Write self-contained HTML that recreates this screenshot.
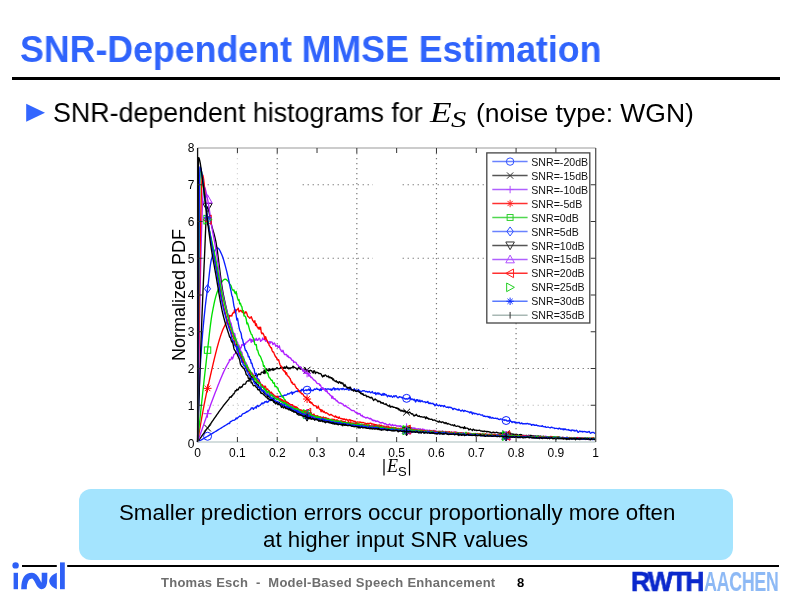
<!DOCTYPE html>
<html><head><meta charset="utf-8">
<style>
html,body{margin:0;padding:0;background:#fff;}
body{width:800px;height:599px;position:relative;overflow:hidden;font-family:"Liberation Sans",sans-serif;}
.abs{position:absolute;white-space:pre;line-height:1;will-change:transform;}
</style></head><body>
<div class="abs" style="left:20px;top:31.8px;font-weight:bold;font-size:36.3px;color:#3064fc;transform-origin:0 0;transform:scaleX(0.984)">SNR-Dependent MMSE Estimation</div>
<div class="abs" style="left:12px;top:76.7px;width:768px;height:2.5px;background:#000"></div>
<svg class="abs" style="left:0;top:0" width="800" height="599" viewBox="0 0 800 599">
<path d="M26.2,103.8 L45,112.8 L26.2,121.8 Z" fill="#3366ff"/>
</svg>
<div class="abs" style="left:53px;top:100px;font-size:27px;color:#000;transform-origin:0 0;transform:scaleX(0.993)">SNR-dependent histograms for</div>
<div class="abs" style="left:429.5px;top:97.5px;font-size:29px;font-style:italic;font-family:'Liberation Serif',serif;color:#000;transform-origin:0 0;transform:scaleX(1.22)">E</div>
<div class="abs" style="left:450.5px;top:108px;font-size:23.5px;font-style:italic;font-family:'Liberation Serif',serif;color:#000;transform-origin:0 0;transform:scaleX(1.3)">S</div>
<div class="abs" style="left:476px;top:100px;font-size:26.5px;color:#000">(noise type: WGN)</div>
<svg class="abs" style="left:0;top:0" width="800" height="599" viewBox="0 0 800 599">
<line x1="237.41" y1="153.0" x2="237.41" y2="437.0" stroke="#d8d8d8" stroke-width="1.2" stroke-dasharray="1.3 3.7"/>
<line x1="277.22" y1="153.0" x2="277.22" y2="437.0" stroke="#777" stroke-width="1.2" stroke-dasharray="1.3 3.7"/>
<line x1="356.84" y1="153.0" x2="356.84" y2="437.0" stroke="#777" stroke-width="1.2" stroke-dasharray="1.3 3.7"/>
<line x1="436.46" y1="153.0" x2="436.46" y2="437.0" stroke="#777" stroke-width="1.2" stroke-dasharray="1.3 3.7"/>
<line x1="516.08" y1="153.0" x2="516.08" y2="437.0" stroke="#777" stroke-width="1.2" stroke-dasharray="1.3 3.7"/>
<line x1="202.60" y1="184.75" x2="278.00" y2="184.75" stroke="#777" stroke-width="1.2" stroke-dasharray="1.3 3.7"/>
<line x1="302.60" y1="184.75" x2="373.00" y2="184.75" stroke="#777" stroke-width="1.2" stroke-dasharray="1.3 3.7"/>
<line x1="402.60" y1="184.75" x2="486.00" y2="184.75" stroke="#777" stroke-width="1.2" stroke-dasharray="1.3 3.7"/>
<line x1="202.60" y1="258.25" x2="278.00" y2="258.25" stroke="#777" stroke-width="1.2" stroke-dasharray="1.3 3.7"/>
<line x1="302.60" y1="258.25" x2="373.00" y2="258.25" stroke="#777" stroke-width="1.2" stroke-dasharray="1.3 3.7"/>
<line x1="402.60" y1="258.25" x2="486.00" y2="258.25" stroke="#777" stroke-width="1.2" stroke-dasharray="1.3 3.7"/>
<line x1="202.60" y1="368.50" x2="385.00" y2="368.50" stroke="#777" stroke-width="1.2" stroke-dasharray="1.3 3.7"/>
<line x1="402.60" y1="368.50" x2="488.00" y2="368.50" stroke="#777" stroke-width="1.2" stroke-dasharray="1.3 3.7"/>
<line x1="507.60" y1="368.50" x2="590.70" y2="368.50" stroke="#777" stroke-width="1.2" stroke-dasharray="1.3 3.7"/>
<line x1="202.60" y1="405.25" x2="364.00" y2="405.25" stroke="#c0c0c0" stroke-width="1.2" stroke-dasharray="1.3 3.7"/>
<line x1="507.60" y1="405.25" x2="590.70" y2="405.25" stroke="#c0c0c0" stroke-width="1.2" stroke-dasharray="1.3 3.7"/>
<path d="M197.60,442.00 197.80,441.89 198.00,441.77 198.20,441.66 198.40,441.55 198.60,441.44 198.79,441.32 198.99,441.21 199.19,441.10 199.57,440.88 199.95,440.67 200.33,440.45 200.70,440.24 201.08,440.02 201.46,439.81 201.84,439.59 202.22,439.37 202.59,439.16 202.97,438.94 203.35,438.72 203.73,438.50 204.10,438.28 204.48,438.06 204.86,437.84 205.24,437.62 205.62,437.40 205.99,437.18 206.37,436.96 206.75,436.74 207.13,436.52 207.51,436.29 207.88,436.07 208.26,435.85 208.64,435.62 209.02,435.40 209.39,435.17 209.77,434.95 210.15,434.72 210.53,434.50 210.91,434.27 211.28,434.04 211.66,433.82 212.04,433.59 212.42,433.36 212.80,433.13 213.17,432.90 213.55,432.67 213.93,432.45 214.31,432.22 214.68,431.99 215.06,431.76 215.44,431.53 215.82,431.30 216.20,431.06 216.57,430.83 216.95,430.60 217.33,430.37 217.71,430.14 218.09,429.91 218.46,429.68 218.84,429.44 219.22,429.21 219.60,428.98 219.97,428.75 220.35,428.51 220.73,428.28 221.11,428.05 221.49,427.81 221.69,427.69 222.41,427.25 223.13,426.80 223.85,426.36 224.57,425.91 225.29,425.46 226.01,425.02 226.73,424.57 227.45,424.13 228.17,423.68 228.89,423.23 229.61,423.56 230.33,421.58 231.05,421.54 231.77,421.08 232.49,420.44 233.22,420.34 233.94,420.34 234.66,419.95 235.38,419.48 236.10,417.97 236.82,418.86 237.54,417.97 238.26,417.37 238.98,416.63 239.70,415.98 240.42,416.43 241.14,416.22 241.86,414.88 242.58,413.80 243.30,413.58 244.03,413.41 244.75,413.24 245.47,412.48 246.19,412.33 246.91,411.34 247.63,411.79 248.35,410.88 249.07,410.61 249.79,409.86 250.51,409.65 251.23,407.97 251.95,408.17 252.67,407.80 253.39,409.41 254.11,408.09 254.83,407.88 255.56,406.86 256.28,408.12 257.00,405.78 257.72,405.48 258.44,406.52 259.16,405.98 259.88,405.54 260.60,404.70 261.32,404.01 262.04,402.84 262.76,403.85 263.48,402.95 264.20,402.99 264.92,401.70 265.64,402.00 266.37,401.30 267.09,402.49 267.81,401.64 268.53,401.72 269.25,399.98 269.97,400.21 270.69,400.52 271.41,400.33 272.13,399.44 272.85,399.91 273.57,399.76 274.29,398.58 275.01,397.02 275.73,398.47 276.45,398.38 277.17,398.50 277.90,398.33 278.62,396.84 279.34,396.36 280.06,396.64 280.78,396.16 281.50,396.04 282.22,395.77 282.94,396.62 283.66,395.66 284.38,395.04 285.10,395.41 285.82,394.98 286.54,394.99 287.26,394.45 287.98,393.44 288.71,394.09 289.43,393.73 290.15,392.89 290.87,392.82 291.59,391.92 292.31,394.34 293.03,392.14 293.75,392.89 294.47,392.29 295.19,391.63 295.91,391.29 296.63,391.16 297.35,391.61 298.07,390.44 298.79,391.61 299.51,391.37 300.24,390.57 300.96,391.38 301.68,389.35 302.40,390.03 303.12,389.10 303.84,390.55 304.56,390.71 305.28,390.24 306.00,389.76 306.72,390.63 307.44,389.89 308.16,390.11 308.88,388.90 309.60,390.46 310.32,389.19 311.05,390.34 311.77,390.52 312.49,390.29 313.21,390.58 313.93,389.58 314.65,388.90 315.37,389.47 316.09,389.10 316.81,388.33 317.53,389.26 318.25,389.27 318.97,389.57 319.69,390.48 320.41,388.75 321.13,390.51 321.85,388.75 322.58,389.19 323.30,388.33 324.02,389.16 324.74,389.67 325.46,388.79 326.18,389.42 326.90,389.11 327.62,388.93 328.34,389.03 329.06,389.04 329.78,389.48 330.50,389.00 331.22,390.38 331.94,388.93 332.66,389.66 333.39,387.98 334.11,387.86 334.83,390.16 335.55,388.64 336.27,388.83 336.99,389.48 337.71,388.34 338.43,389.05 339.15,389.99 339.87,388.90 340.59,388.82 341.31,388.65 342.03,389.64 342.75,388.35 343.47,388.31 344.19,389.72 344.92,389.43 345.64,389.08 346.36,389.51 347.08,387.94 347.80,389.13 348.52,390.09 349.24,390.03 349.96,389.61 350.68,388.04 351.40,389.91 352.12,389.80 352.84,389.63 353.56,390.13 354.28,388.59 355.00,390.68 355.73,389.88 356.45,390.39 357.17,390.15 357.89,391.51 358.61,389.53 359.33,390.96 360.05,390.95 360.77,391.73 361.49,391.68 362.21,390.88 362.93,390.69 363.65,390.96 364.37,390.75 365.09,391.20 365.81,391.79 366.53,391.33 367.26,391.61 367.98,392.21 368.70,391.75 369.42,391.48 370.14,392.32 370.86,392.84 371.58,392.21 372.30,391.52 373.02,393.09 373.74,393.12 374.46,393.27 375.18,392.46 375.90,394.67 376.62,393.28 377.34,392.84 378.07,394.32 378.79,392.88 379.51,393.65 380.23,394.50 380.95,394.11 381.67,395.40 382.39,394.87 383.11,393.37 383.83,395.32 384.55,393.60 385.27,395.01 385.99,394.41 386.71,395.16 387.43,396.80 388.15,395.80 388.87,395.41 389.60,396.42 390.32,396.66 391.04,395.63 391.76,396.42 392.48,397.22 393.20,396.66 393.92,395.75 394.64,396.73 395.36,395.92 396.08,395.64 396.80,396.73 397.52,397.60 398.24,397.82 398.96,397.09 399.68,396.61 400.41,397.13 401.13,397.06 401.85,397.82 402.57,397.45 403.29,398.07 404.01,398.10 404.73,398.84 405.45,399.15 406.17,398.57 406.89,399.10 407.61,399.14 408.33,398.23 409.05,398.86 409.77,397.07 410.49,398.48 411.21,399.61 411.94,398.86 412.66,399.27 413.38,400.07 414.10,399.09 414.82,400.42 415.54,402.01 416.26,399.74 416.98,400.77 417.70,399.61 418.42,401.10 419.14,401.58 419.86,400.04 420.58,401.83 421.30,401.19 422.02,400.58 422.75,401.57 423.47,401.85 424.19,401.90 424.91,401.60 425.63,402.77 426.35,402.07 427.07,402.25 427.79,401.35 428.51,403.13 429.23,403.65 429.95,402.81 430.67,403.66 431.39,403.41 432.11,403.67 432.83,403.21 433.55,404.46 434.28,404.29 435.00,405.92 435.72,405.09 436.44,403.81 437.16,405.28 437.88,405.46 438.60,405.92 439.32,405.03 440.04,405.42 440.76,406.38 441.48,405.47 442.20,405.87 442.92,405.75 443.64,406.72 444.36,405.51 445.09,406.45 445.81,406.92 446.53,407.31 447.25,407.33 447.97,406.86 448.69,407.68 449.41,407.08 450.13,407.53 450.85,407.27 451.57,407.74 452.29,408.41 453.01,409.61 453.73,408.54 454.45,408.44 455.17,408.96 455.89,408.91 456.62,409.66 457.34,409.78 458.06,410.26 458.78,409.16 459.50,409.99 460.22,410.52 460.94,411.15 461.66,410.67 462.38,409.97 463.10,410.68 463.82,411.49 464.54,410.50 465.26,410.67 465.98,411.08 466.70,411.35 467.43,411.33 468.15,411.82 468.87,411.87 469.59,412.86 470.31,411.82 471.03,412.66 471.75,411.88 472.47,414.18 473.19,412.91 473.91,412.93 474.63,413.78 475.35,413.53 476.07,413.54 476.79,413.79 477.51,414.53 478.23,414.49 478.96,414.06 479.68,414.10 480.40,414.87 481.12,415.04 481.84,415.15 482.56,414.89 483.28,416.11 484.00,416.42 484.72,415.85 485.44,416.63 486.16,416.54 486.88,416.37 487.60,416.33 488.32,417.27 489.04,416.50 489.77,417.94 490.49,416.96 491.21,418.16 491.93,418.18 492.65,417.40 493.37,418.07 494.09,418.42 494.81,418.41 495.53,418.12 496.25,418.53 496.97,418.67 497.69,418.31 498.41,419.31 499.13,419.34 499.85,419.51 500.57,418.86 501.30,419.09 502.02,419.10 502.74,419.87 503.46,420.06 504.18,419.73 504.90,420.45 505.62,420.02 506.34,420.20 507.06,421.00 507.78,420.85 508.50,420.99 509.22,420.27 509.94,420.01 510.66,421.38 511.38,421.45 512.11,422.63 512.83,421.62 513.55,421.85 514.27,422.46 514.99,421.74 515.71,422.93 516.43,422.44 517.15,422.41 517.87,423.15 518.59,422.33 519.31,422.36 520.03,423.58 520.75,423.71 521.47,422.93 522.19,423.33 522.91,423.97 523.64,423.68 524.36,423.72 525.08,423.85 525.80,423.54 526.52,423.85 527.24,423.36 527.96,423.65 528.68,424.07 529.40,424.01 530.12,424.02 530.84,424.40 531.56,425.34 532.28,424.55 533.00,425.00 533.72,424.45 534.45,425.21 535.17,425.14 535.89,425.33 536.61,424.86 537.33,425.61 538.05,425.91 538.77,425.77 539.49,426.19 540.21,426.04 540.93,426.22 541.65,426.21 542.37,425.62 543.09,426.70 543.81,426.61 544.53,426.82 545.25,426.55 545.98,427.43 546.70,427.32 547.42,427.15 548.14,427.01 548.86,427.36 549.58,427.64 550.30,427.89 551.02,427.43 551.74,427.14 552.46,427.70 553.18,427.85 553.90,427.85 554.62,428.50 555.34,428.35 556.06,428.42 556.79,428.29 557.51,428.52 558.23,429.09 558.95,428.25 559.67,428.12 560.39,428.99 561.11,428.82 561.83,428.97 562.55,428.86 563.27,429.85 563.99,428.71 564.71,429.63 565.43,429.04 566.15,429.60 566.87,429.87 567.59,429.86 568.32,429.55 569.04,430.33 569.76,430.22 570.48,430.35 571.20,430.92 571.92,429.84 572.64,430.21 573.36,430.53 574.08,430.16 574.80,431.06 575.52,430.81 576.24,430.20 576.96,430.57 577.68,431.88 578.40,432.39 579.13,431.59 579.85,430.88 580.57,431.55 581.29,431.53 582.01,431.30 582.73,431.95 583.45,431.61 584.17,431.48 584.89,431.68 585.61,431.78 586.33,432.24 587.05,431.90 587.77,432.33 588.49,431.76 589.21,431.37 589.93,432.68 590.66,433.28 591.38,432.71 592.10,432.49 592.82,432.32 593.54,432.38 594.26,433.14 594.98,433.21 595.70,432.53" fill="none" stroke="#0a1eff" stroke-width="1.35" stroke-linejoin="round"/>
<circle cx="207.55" cy="436.27" r="4" fill="none" stroke="#0a1eff" stroke-width="1"/>
<circle cx="307.08" cy="390.18" r="4" fill="none" stroke="#0a1eff" stroke-width="1"/>
<circle cx="406.60" cy="398.34" r="4" fill="none" stroke="#0a1eff" stroke-width="1"/>
<circle cx="506.13" cy="420.50" r="4" fill="none" stroke="#0a1eff" stroke-width="1"/>
<path d="M197.60,442.00 197.80,441.72 198.00,441.43 198.20,441.15 198.40,440.87 198.60,440.59 198.79,440.30 198.99,440.02 199.19,439.74 199.57,439.20 199.95,438.67 200.33,438.13 200.70,437.60 201.08,437.07 201.46,436.53 201.84,436.00 202.22,435.47 202.59,434.94 202.97,434.41 203.35,433.88 203.73,433.35 204.10,432.82 204.48,432.29 204.86,431.76 205.24,431.24 205.62,430.71 205.99,430.19 206.37,429.66 206.75,429.14 207.13,428.62 207.51,428.10 207.88,427.58 208.26,427.06 208.64,426.53 209.02,426.00 209.39,425.47 209.77,424.94 210.15,424.40 210.53,423.87 210.91,423.33 211.28,422.79 211.66,422.25 212.04,421.71 212.42,421.17 212.80,420.62 213.17,420.08 213.55,419.54 213.93,418.99 214.31,418.45 214.68,417.91 215.06,417.36 215.44,416.82 215.82,416.28 216.20,415.74 216.57,415.20 216.95,414.66 217.33,414.12 217.71,413.58 218.09,413.04 218.46,412.51 218.84,411.98 219.22,411.45 219.60,410.92 219.97,410.40 220.35,409.87 220.73,409.35 221.11,408.84 221.49,408.32 221.69,408.05 222.41,407.09 223.13,406.13 223.85,405.19 224.57,404.27 225.29,403.36 226.01,402.47 226.73,401.60 227.45,400.74 228.17,399.91 228.89,399.10 229.61,397.28 230.33,396.93 231.05,397.36 231.77,395.72 232.49,395.83 233.22,394.00 233.94,393.89 234.66,392.50 235.38,390.58 236.10,391.00 236.82,389.29 237.54,390.10 238.26,389.76 238.98,387.88 239.70,386.91 240.42,387.89 241.14,386.76 241.86,387.23 242.58,385.67 243.30,384.22 244.03,384.33 244.75,384.08 245.47,384.12 246.19,382.17 246.91,381.26 247.63,380.84 248.35,380.55 249.07,381.21 249.79,378.29 250.51,379.21 251.23,378.78 251.95,377.59 252.67,379.46 253.39,377.30 254.11,376.92 254.83,376.08 255.56,374.86 256.28,375.17 257.00,376.67 257.72,375.03 258.44,374.17 259.16,373.83 259.88,374.64 260.60,374.59 261.32,372.35 262.04,372.16 262.76,372.12 263.48,373.25 264.20,369.93 264.92,373.65 265.64,371.18 266.37,368.80 267.09,370.50 267.81,369.94 268.53,370.97 269.25,368.58 269.97,370.75 270.69,369.26 271.41,369.24 272.13,370.15 272.85,368.33 273.57,370.23 274.29,369.47 275.01,368.78 275.73,369.00 276.45,368.12 277.17,367.61 277.90,368.58 278.62,368.70 279.34,368.59 280.06,368.36 280.78,367.24 281.50,368.07 282.22,367.44 282.94,367.82 283.66,368.42 284.38,366.85 285.10,368.49 285.82,367.51 286.54,366.16 287.26,368.42 287.98,367.48 288.71,368.82 289.43,367.85 290.15,368.73 290.87,367.73 291.59,367.92 292.31,367.37 293.03,366.14 293.75,367.37 294.47,367.12 295.19,367.85 295.91,368.13 296.63,368.76 297.35,369.74 298.07,368.22 298.79,366.98 299.51,368.15 300.24,369.19 300.96,367.42 301.68,369.40 302.40,369.72 303.12,370.40 303.84,370.33 304.56,369.86 305.28,368.05 306.00,370.12 306.72,370.99 307.44,370.77 308.16,370.59 308.88,372.04 309.60,370.61 310.32,370.28 311.05,370.78 311.77,370.72 312.49,372.53 313.21,373.06 313.93,370.69 314.65,371.05 315.37,373.50 316.09,372.22 316.81,372.58 317.53,372.36 318.25,372.86 318.97,373.68 319.69,373.32 320.41,373.59 321.13,374.00 321.85,375.76 322.58,376.95 323.30,375.37 324.02,376.33 324.74,375.05 325.46,374.97 326.18,375.66 326.90,376.50 327.62,376.48 328.34,375.94 329.06,377.85 329.78,376.88 330.50,377.44 331.22,378.19 331.94,377.63 332.66,379.76 333.39,378.84 334.11,380.72 334.83,380.99 335.55,381.61 336.27,380.83 336.99,382.30 337.71,381.92 338.43,383.21 339.15,381.89 339.87,381.67 340.59,383.26 341.31,382.54 342.03,383.72 342.75,382.86 343.47,384.78 344.19,386.38 344.92,384.45 345.64,386.01 346.36,387.03 347.08,387.10 347.80,388.17 348.52,387.44 349.24,388.45 349.96,386.94 350.68,387.89 351.40,389.91 352.12,390.14 352.84,389.81 353.56,391.11 354.28,390.16 355.00,390.46 355.73,391.31 356.45,391.48 357.17,391.09 357.89,390.78 358.61,391.07 359.33,392.42 360.05,392.19 360.77,393.62 361.49,393.17 362.21,394.44 362.93,393.63 363.65,395.29 364.37,395.44 365.09,395.13 365.81,395.09 366.53,396.74 367.26,396.48 367.98,396.36 368.70,396.63 369.42,397.66 370.14,397.38 370.86,397.95 371.58,397.20 372.30,398.07 373.02,399.60 373.74,400.48 374.46,399.34 375.18,398.98 375.90,399.94 376.62,399.82 377.34,400.99 378.07,401.85 378.79,400.86 379.51,401.58 380.23,401.53 380.95,403.11 381.67,402.46 382.39,403.26 383.11,402.70 383.83,403.84 384.55,404.16 385.27,404.45 385.99,403.65 386.71,404.68 387.43,405.44 388.15,405.89 388.87,406.19 389.60,405.02 390.32,407.21 391.04,406.94 391.76,406.36 392.48,406.34 393.20,407.38 393.92,407.13 394.64,407.42 395.36,407.57 396.08,408.38 396.80,407.75 397.52,408.82 398.24,408.35 398.96,410.08 399.68,409.21 400.41,410.68 401.13,411.07 401.85,410.23 402.57,411.21 403.29,410.76 404.01,411.83 404.73,410.64 405.45,411.74 406.17,412.59 406.89,412.12 407.61,411.99 408.33,413.09 409.05,412.65 409.77,412.08 410.49,412.93 411.21,413.62 411.94,414.13 412.66,413.77 413.38,415.07 414.10,416.08 414.82,415.08 415.54,415.51 416.26,414.29 416.98,415.33 417.70,416.11 418.42,416.42 419.14,415.80 419.86,416.68 420.58,416.76 421.30,416.73 422.02,416.85 422.75,417.06 423.47,417.26 424.19,416.88 424.91,416.90 425.63,418.73 426.35,416.89 427.07,418.27 427.79,417.94 428.51,419.09 429.23,418.78 429.95,419.04 430.67,419.28 431.39,419.13 432.11,419.43 432.83,420.40 433.55,420.17 434.28,419.97 435.00,420.18 435.72,420.85 436.44,421.01 437.16,421.14 437.88,421.77 438.60,422.04 439.32,420.92 440.04,422.01 440.76,421.97 441.48,422.55 442.20,421.81 442.92,421.80 443.64,422.88 444.36,422.74 445.09,423.49 445.81,422.57 446.53,423.13 447.25,424.10 447.97,423.37 448.69,423.95 449.41,424.11 450.13,424.32 450.85,424.95 451.57,425.08 452.29,424.77 453.01,425.24 453.73,425.81 454.45,424.72 455.17,425.85 455.89,426.18 456.62,426.41 457.34,426.01 458.06,426.06 458.78,426.54 459.50,426.45 460.22,427.60 460.94,427.31 461.66,427.51 462.38,427.48 463.10,427.44 463.82,428.63 464.54,426.69 465.26,428.47 465.98,428.13 466.70,428.09 467.43,428.23 468.15,428.62 468.87,430.02 469.59,429.43 470.31,428.83 471.03,429.63 471.75,429.82 472.47,430.45 473.19,429.17 473.91,429.58 474.63,430.24 475.35,430.06 476.07,430.16 476.79,430.67 477.51,430.45 478.23,430.36 478.96,430.35 479.68,430.18 480.40,430.77 481.12,431.06 481.84,430.83 482.56,431.32 483.28,431.66 484.00,430.85 484.72,431.52 485.44,431.43 486.16,431.32 486.88,432.08 487.60,431.51 488.32,431.67 489.04,431.97 489.77,431.87 490.49,432.39 491.21,433.02 491.93,432.38 492.65,432.70 493.37,432.12 494.09,432.43 494.81,432.80 495.53,432.67 496.25,432.27 496.97,432.43 497.69,432.79 498.41,432.84 499.13,433.18 499.85,433.20 500.57,433.01 501.30,433.34 502.02,433.26 502.74,433.84 503.46,434.11 504.18,434.19 504.90,433.80 505.62,433.24 506.34,433.36 507.06,434.21 507.78,434.47 508.50,433.70 509.22,433.88 509.94,434.60 510.66,433.80 511.38,434.18 512.11,433.84 512.83,434.25 513.55,434.12 514.27,434.38 514.99,434.90 515.71,434.70 516.43,434.92 517.15,434.45 517.87,435.16 518.59,435.40 519.31,434.69 520.03,434.58 520.75,434.54 521.47,434.72 522.19,435.69 522.91,435.46 523.64,435.47 524.36,435.34 525.08,436.14 525.80,435.45 526.52,435.40 527.24,435.88 527.96,435.57 528.68,435.25 529.40,435.70 530.12,435.41 530.84,435.47 531.56,435.73 532.28,435.79 533.00,436.10 533.72,435.60 534.45,436.23 535.17,436.36 535.89,435.93 536.61,436.47 537.33,436.12 538.05,435.95 538.77,436.33 539.49,436.37 540.21,436.14 540.93,436.24 541.65,437.06 542.37,437.02 543.09,436.17 543.81,436.53 544.53,437.41 545.25,437.20 545.98,436.78 546.70,437.16 547.42,436.71 548.14,436.88 548.86,436.78 549.58,437.37 550.30,436.81 551.02,436.40 551.74,437.35 552.46,436.69 553.18,436.83 553.90,436.98 554.62,437.25 555.34,437.65 556.06,437.59 556.79,437.08 557.51,437.05 558.23,437.00 558.95,437.12 559.67,437.18 560.39,437.65 561.11,437.94 561.83,437.51 562.55,437.44 563.27,437.61 563.99,438.17 564.71,437.88 565.43,438.22 566.15,437.72 566.87,438.14 567.59,437.89 568.32,437.76 569.04,437.85 569.76,437.48 570.48,438.31 571.20,438.70 571.92,437.71 572.64,437.59 573.36,437.60 574.08,438.01 574.80,437.95 575.52,438.11 576.24,438.60 576.96,438.39 577.68,438.07 578.40,438.45 579.13,437.67 579.85,438.81 580.57,438.48 581.29,438.00 582.01,438.58 582.73,438.77 583.45,438.87 584.17,438.69 584.89,437.99 585.61,438.37 586.33,438.35 587.05,438.71 587.77,438.29 588.49,438.55 589.21,438.90 589.93,438.77 590.66,438.57 591.38,438.28 592.10,438.69 592.82,438.53 593.54,438.06 594.26,438.98 594.98,439.14 595.70,438.44" fill="none" stroke="#000000" stroke-width="1.35" stroke-linejoin="round"/>
<path d="M204.15,424.64L210.95,431.44M204.15,431.44L210.95,424.64" stroke="#000000" stroke-width="1" fill="none"/>
<path d="M303.68,366.77L310.48,373.57M303.68,373.57L310.48,366.77" stroke="#000000" stroke-width="1" fill="none"/>
<path d="M403.20,408.74L410.00,415.54M403.20,415.54L410.00,408.74" stroke="#000000" stroke-width="1" fill="none"/>
<path d="M502.73,430.37L509.53,437.17M502.73,437.17L509.53,430.37" stroke="#000000" stroke-width="1" fill="none"/>
<path d="M197.60,442.00 197.80,441.43 198.00,440.86 198.20,440.30 198.40,439.73 198.60,439.16 198.79,438.59 198.99,438.03 199.19,437.46 199.57,436.38 199.95,435.31 200.33,434.23 200.70,433.16 201.08,432.08 201.46,431.01 201.84,429.93 202.22,428.86 202.59,427.78 202.97,426.71 203.35,425.63 203.73,424.56 204.10,423.49 204.48,422.41 204.86,421.34 205.24,420.27 205.62,419.20 205.99,418.12 206.37,417.05 206.75,415.98 207.13,414.91 207.51,413.84 207.88,412.76 208.26,411.67 208.64,410.57 209.02,409.47 209.39,408.37 209.77,407.27 210.15,406.17 210.53,405.09 210.91,404.02 211.28,402.96 211.66,401.92 212.04,400.91 212.42,399.92 212.80,398.95 213.17,397.98 213.55,397.01 213.93,396.03 214.31,395.05 214.68,394.07 215.06,393.09 215.44,392.11 215.82,391.13 216.20,390.15 216.57,389.17 216.95,388.20 217.33,387.23 217.71,386.26 218.09,385.30 218.46,384.34 218.84,383.38 219.22,382.44 219.60,381.49 219.97,380.56 220.35,379.63 220.73,378.71 221.11,377.81 221.49,376.91 221.69,376.43 222.41,374.76 223.13,373.12 223.85,371.53 224.57,369.99 225.29,368.51 226.01,367.08 226.73,365.72 227.45,364.42 228.17,363.19 228.89,362.04 229.61,359.40 230.33,360.00 231.05,359.08 231.77,357.06 232.49,358.94 233.22,356.98 233.94,354.53 234.66,354.19 235.38,353.31 236.10,352.01 236.82,352.16 237.54,350.87 238.26,351.28 238.98,351.02 239.70,346.98 240.42,348.53 241.14,347.58 241.86,344.66 242.58,344.35 243.30,345.42 244.03,344.84 244.75,343.80 245.47,344.23 246.19,342.12 246.91,342.12 247.63,341.74 248.35,340.71 249.07,340.44 249.79,338.94 250.51,339.07 251.23,342.42 251.95,339.33 252.67,341.37 253.39,341.53 254.11,339.00 254.83,340.43 255.56,339.89 256.28,338.28 257.00,340.17 257.72,340.43 258.44,339.09 259.16,338.15 259.88,339.00 260.60,341.42 261.32,340.54 262.04,340.13 262.76,337.98 263.48,339.31 264.20,339.54 264.92,339.36 265.64,341.24 266.37,340.60 267.09,340.82 267.81,342.67 268.53,341.86 269.25,341.47 269.97,343.51 270.69,341.72 271.41,342.08 272.13,342.14 272.85,344.48 273.57,343.95 274.29,342.96 275.01,344.16 275.73,346.36 276.45,345.82 277.17,345.13 277.90,347.30 278.62,347.43 279.34,345.77 280.06,349.13 280.78,349.85 281.50,351.44 282.22,351.75 282.94,350.25 283.66,352.58 284.38,354.31 285.10,354.73 285.82,354.47 286.54,354.39 287.26,356.54 287.98,355.77 288.71,357.58 289.43,357.39 290.15,357.84 290.87,358.37 291.59,359.97 292.31,360.34 293.03,360.32 293.75,362.63 294.47,361.89 295.19,362.20 295.91,362.35 296.63,363.98 297.35,364.76 298.07,365.10 298.79,366.53 299.51,366.70 300.24,366.79 300.96,367.56 301.68,369.37 302.40,369.38 303.12,371.59 303.84,369.70 304.56,371.50 305.28,371.48 306.00,373.27 306.72,373.05 307.44,373.25 308.16,373.45 308.88,376.05 309.60,374.88 310.32,376.38 311.05,377.55 311.77,377.21 312.49,378.52 313.21,379.21 313.93,380.22 314.65,380.18 315.37,381.03 316.09,381.89 316.81,383.19 317.53,383.55 318.25,383.56 318.97,383.60 319.69,385.29 320.41,384.92 321.13,386.68 321.85,388.17 322.58,387.61 323.30,389.45 324.02,389.16 324.74,389.37 325.46,391.03 326.18,391.55 326.90,390.45 327.62,392.65 328.34,393.29 329.06,393.59 329.78,394.83 330.50,395.45 331.22,395.76 331.94,398.20 332.66,396.31 333.39,398.51 334.11,399.09 334.83,398.63 335.55,399.51 336.27,400.86 336.99,400.47 337.71,401.82 338.43,402.05 339.15,403.02 339.87,403.09 340.59,402.82 341.31,403.46 342.03,403.82 342.75,403.93 343.47,404.97 344.19,405.79 344.92,406.02 345.64,405.36 346.36,406.74 347.08,407.03 347.80,407.70 348.52,407.95 349.24,408.28 349.96,408.96 350.68,409.46 351.40,410.23 352.12,410.68 352.84,410.41 353.56,410.63 354.28,410.94 355.00,411.81 355.73,412.67 356.45,412.29 357.17,412.68 357.89,414.17 358.61,413.34 359.33,413.82 360.05,413.63 360.77,415.42 361.49,415.85 362.21,415.15 362.93,416.79 363.65,416.59 364.37,417.10 365.09,417.38 365.81,418.13 366.53,417.63 367.26,417.34 367.98,417.90 368.70,418.20 369.42,418.87 370.14,418.29 370.86,419.01 371.58,419.03 372.30,420.52 373.02,419.88 373.74,420.83 374.46,420.38 375.18,420.69 375.90,421.54 376.62,421.18 377.34,420.96 378.07,421.48 378.79,421.66 379.51,422.53 380.23,422.66 380.95,423.06 381.67,422.70 382.39,422.43 383.11,422.96 383.83,423.34 384.55,424.02 385.27,423.51 385.99,423.98 386.71,424.87 387.43,424.96 388.15,424.51 388.87,424.91 389.60,423.96 390.32,424.80 391.04,425.40 391.76,425.30 392.48,424.54 393.20,425.75 393.92,425.14 394.64,425.41 395.36,425.09 396.08,425.60 396.80,426.11 397.52,425.83 398.24,426.13 398.96,425.85 399.68,426.39 400.41,425.65 401.13,426.61 401.85,426.49 402.57,427.05 403.29,426.83 404.01,426.97 404.73,427.01 405.45,426.82 406.17,427.51 406.89,427.74 407.61,427.05 408.33,427.72 409.05,427.99 409.77,427.35 410.49,427.61 411.21,429.10 411.94,428.29 412.66,427.93 413.38,428.02 414.10,428.67 414.82,427.94 415.54,428.99 416.26,428.87 416.98,428.84 417.70,428.99 418.42,428.78 419.14,428.80 419.86,429.32 420.58,428.86 421.30,429.78 422.02,429.69 422.75,429.04 423.47,429.77 424.19,429.49 424.91,430.17 425.63,430.20 426.35,430.23 427.07,430.22 427.79,430.50 428.51,430.46 429.23,430.29 429.95,430.18 430.67,430.68 431.39,430.56 432.11,430.54 432.83,431.37 433.55,431.64 434.28,430.50 435.00,430.69 435.72,431.24 436.44,431.20 437.16,431.75 437.88,431.98 438.60,431.40 439.32,432.14 440.04,431.30 440.76,431.96 441.48,431.66 442.20,431.10 442.92,431.17 443.64,432.03 444.36,431.59 445.09,432.42 445.81,432.31 446.53,432.01 447.25,431.68 447.97,432.46 448.69,432.10 449.41,432.31 450.13,432.86 450.85,432.49 451.57,431.94 452.29,432.57 453.01,432.40 453.73,432.33 454.45,432.95 455.17,432.27 455.89,432.22 456.62,432.23 457.34,432.38 458.06,433.08 458.78,433.17 459.50,433.28 460.22,433.37 460.94,433.38 461.66,432.77 462.38,432.64 463.10,433.45 463.82,432.97 464.54,433.77 465.26,433.47 465.98,433.75 466.70,434.02 467.43,433.46 468.15,433.49 468.87,433.71 469.59,433.79 470.31,434.00 471.03,433.74 471.75,433.95 472.47,433.69 473.19,434.25 473.91,433.77 474.63,433.71 475.35,433.49 476.07,433.60 476.79,433.95 477.51,434.30 478.23,434.75 478.96,434.14 479.68,433.67 480.40,433.62 481.12,435.15 481.84,434.56 482.56,434.45 483.28,434.74 484.00,434.34 484.72,434.43 485.44,434.66 486.16,434.53 486.88,435.12 487.60,434.94 488.32,434.95 489.04,434.35 489.77,435.28 490.49,434.81 491.21,434.50 491.93,434.83 492.65,434.56 493.37,435.11 494.09,434.77 494.81,434.64 495.53,434.21 496.25,434.77 496.97,434.56 497.69,435.09 498.41,435.10 499.13,434.62 499.85,435.00 500.57,434.74 501.30,435.02 502.02,434.56 502.74,434.51 503.46,435.66 504.18,434.76 504.90,435.29 505.62,435.30 506.34,435.54 507.06,435.29 507.78,435.95 508.50,435.85 509.22,435.90 509.94,435.57 510.66,435.38 511.38,435.48 512.11,435.64 512.83,436.00 513.55,436.43 514.27,435.72 514.99,435.84 515.71,435.80 516.43,435.47 517.15,436.05 517.87,436.09 518.59,436.84 519.31,435.89 520.03,436.13 520.75,436.40 521.47,436.05 522.19,436.56 522.91,436.42 523.64,435.60 524.36,436.04 525.08,436.02 525.80,436.11 526.52,436.17 527.24,436.35 527.96,435.68 528.68,436.51 529.40,436.26 530.12,436.61 530.84,436.69 531.56,437.42 532.28,437.28 533.00,436.14 533.72,436.18 534.45,436.86 535.17,436.75 535.89,436.57 536.61,437.13 537.33,436.23 538.05,437.20 538.77,437.12 539.49,437.84 540.21,436.43 540.93,436.95 541.65,436.45 542.37,437.35 543.09,436.93 543.81,437.05 544.53,437.03 545.25,436.43 545.98,436.40 546.70,436.72 547.42,437.33 548.14,436.93 548.86,436.80 549.58,437.09 550.30,437.11 551.02,437.17 551.74,437.65 552.46,437.29 553.18,436.87 553.90,437.75 554.62,437.42 555.34,437.20 556.06,437.95 556.79,437.57 557.51,438.10 558.23,437.77 558.95,438.05 559.67,437.91 560.39,437.80 561.11,437.75 561.83,437.75 562.55,438.50 563.27,437.21 563.99,437.85 564.71,438.14 565.43,438.01 566.15,437.72 566.87,438.17 567.59,438.00 568.32,438.04 569.04,437.74 569.76,438.18 570.48,437.81 571.20,437.86 571.92,438.05 572.64,437.62 573.36,438.04 574.08,438.45 574.80,437.99 575.52,438.07 576.24,438.14 576.96,438.07 577.68,437.41 578.40,438.11 579.13,438.06 579.85,438.31 580.57,437.82 581.29,438.29 582.01,438.55 582.73,438.70 583.45,438.16 584.17,438.11 584.89,438.88 585.61,438.62 586.33,438.20 587.05,438.09 587.77,438.87 588.49,438.59 589.21,438.21 589.93,438.67 590.66,438.66 591.38,438.71 592.10,438.97 592.82,438.55 593.54,438.49 594.26,439.05 594.98,438.59 595.70,438.28" fill="none" stroke="#b020ff" stroke-width="1.35" stroke-linejoin="round"/>
<path d="M203.55,413.70L211.55,413.70M207.55,409.70L207.55,417.70" stroke="#b020ff" stroke-width="1" fill="none"/>
<path d="M303.08,373.29L311.08,373.29M307.08,369.29L307.08,377.29" stroke="#b020ff" stroke-width="1" fill="none"/>
<path d="M402.60,427.36L410.60,427.36M406.60,423.36L406.60,431.36" stroke="#b020ff" stroke-width="1" fill="none"/>
<path d="M502.13,435.50L510.13,435.50M506.13,431.50L506.13,439.50" stroke="#b020ff" stroke-width="1" fill="none"/>
<path d="M197.60,442.00 197.80,440.80 198.00,439.60 198.20,438.41 198.40,437.22 198.60,436.03 198.79,434.84 198.99,433.66 199.19,432.48 199.57,430.25 199.95,428.04 200.33,425.85 200.70,423.67 201.08,421.50 201.46,419.36 201.84,417.24 202.22,415.14 202.59,413.06 202.97,411.00 203.35,408.97 203.73,406.96 204.10,404.98 204.48,403.03 204.86,401.11 205.24,399.22 205.62,397.36 205.99,395.53 206.37,393.73 206.75,391.97 207.13,390.24 207.51,388.55 207.88,386.89 208.26,385.21 208.64,383.54 209.02,381.87 209.39,380.19 209.77,378.52 210.15,376.85 210.53,375.18 210.91,373.51 211.28,371.85 211.66,370.20 212.04,368.56 212.42,366.92 212.80,365.30 213.17,363.68 213.55,362.08 213.93,360.49 214.31,358.92 214.68,357.36 215.06,355.82 215.44,354.29 215.82,352.79 216.20,351.30 216.57,349.84 216.95,348.40 217.33,346.99 217.71,345.59 218.09,344.23 218.46,342.89 218.84,341.58 219.22,340.30 219.60,339.05 219.97,337.83 220.35,336.65 220.73,335.49 221.11,334.38 221.49,333.30 221.69,332.74 222.41,330.82 223.13,329.05 223.85,327.43 224.57,325.98 225.29,324.68 226.01,323.42 226.73,322.16 227.45,320.91 228.17,319.69 228.89,318.50 229.61,315.48 230.33,316.05 231.05,315.38 231.77,315.96 232.49,313.76 233.22,312.77 233.94,312.73 234.66,309.22 235.38,312.98 236.10,310.57 236.82,309.70 237.54,309.58 238.26,308.13 238.98,311.86 239.70,311.27 240.42,310.50 241.14,310.74 241.86,311.69 242.58,312.51 243.30,310.78 244.03,313.73 244.75,313.66 245.47,311.81 246.19,312.00 246.91,313.57 247.63,316.18 248.35,316.74 249.07,317.37 249.79,318.22 250.51,317.95 251.23,316.61 251.95,318.55 252.67,320.46 253.39,321.30 254.11,322.63 254.83,320.73 255.56,325.47 256.28,323.75 257.00,326.77 257.72,327.36 258.44,328.91 259.16,327.10 259.88,329.41 260.60,327.18 261.32,332.72 262.04,333.87 262.76,332.99 263.48,334.13 264.20,336.25 264.92,339.41 265.64,336.72 266.37,338.97 267.09,340.45 267.81,342.85 268.53,342.84 269.25,345.47 269.97,346.18 270.69,347.78 271.41,347.63 272.13,350.77 272.85,351.99 273.57,351.85 274.29,354.06 275.01,355.60 275.73,357.08 276.45,357.16 277.17,359.91 277.90,360.02 278.62,359.74 279.34,362.45 280.06,364.70 280.78,366.23 281.50,366.16 282.22,368.53 282.94,369.97 283.66,370.35 284.38,371.74 285.10,371.14 285.82,374.20 286.54,372.71 287.26,375.71 287.98,376.02 288.71,376.58 289.43,377.94 290.15,378.52 290.87,380.84 291.59,382.80 292.31,382.13 293.03,384.22 293.75,384.31 294.47,384.09 295.19,385.87 295.91,387.08 296.63,388.37 297.35,388.66 298.07,389.45 298.79,391.32 299.51,390.85 300.24,392.65 300.96,392.58 301.68,393.85 302.40,393.67 303.12,394.54 303.84,395.87 304.56,396.69 305.28,397.05 306.00,397.15 306.72,398.04 307.44,399.29 308.16,399.85 308.88,399.72 309.60,402.37 310.32,401.66 311.05,403.18 311.77,402.43 312.49,404.16 313.21,404.53 313.93,405.70 314.65,405.63 315.37,405.74 316.09,405.80 316.81,408.02 317.53,408.08 318.25,406.14 318.97,408.31 319.69,409.32 320.41,409.49 321.13,411.69 321.85,409.77 322.58,410.97 323.30,412.22 324.02,411.19 324.74,412.52 325.46,413.09 326.18,412.62 326.90,413.02 327.62,413.81 328.34,413.93 329.06,414.91 329.78,415.27 330.50,414.37 331.22,414.45 331.94,415.19 332.66,415.50 333.39,416.16 334.11,416.29 334.83,416.94 335.55,415.85 336.27,417.24 336.99,416.99 337.71,417.42 338.43,418.32 339.15,416.90 339.87,418.23 340.59,418.61 341.31,418.37 342.03,419.05 342.75,418.78 343.47,419.44 344.19,418.88 344.92,419.30 345.64,420.14 346.36,419.17 347.08,419.73 347.80,420.50 348.52,419.97 349.24,420.09 349.96,419.58 350.68,421.00 351.40,420.35 352.12,420.93 352.84,420.75 353.56,421.29 354.28,421.34 355.00,421.22 355.73,422.13 356.45,422.68 357.17,421.85 357.89,422.18 358.61,422.06 359.33,421.94 360.05,422.45 360.77,421.94 361.49,422.62 362.21,422.67 362.93,422.47 363.65,422.70 364.37,423.12 365.09,423.14 365.81,423.65 366.53,423.70 367.26,423.50 367.98,423.30 368.70,423.97 369.42,423.53 370.14,423.16 370.86,423.18 371.58,424.23 372.30,423.89 373.02,424.20 373.74,424.24 374.46,424.34 375.18,424.59 375.90,424.58 376.62,424.97 377.34,425.28 378.07,425.18 378.79,425.20 379.51,425.01 380.23,425.49 380.95,425.46 381.67,425.29 382.39,426.41 383.11,426.24 383.83,426.03 384.55,426.36 385.27,426.92 385.99,426.20 386.71,426.76 387.43,427.26 388.15,426.18 388.87,427.61 389.60,427.20 390.32,427.58 391.04,427.38 391.76,427.30 392.48,427.98 393.20,427.80 393.92,427.92 394.64,428.38 395.36,427.60 396.08,428.11 396.80,428.40 397.52,428.65 398.24,428.61 398.96,428.52 399.68,428.85 400.41,428.26 401.13,429.87 401.85,429.79 402.57,429.12 403.29,429.84 404.01,429.21 404.73,429.52 405.45,429.11 406.17,429.25 406.89,428.96 407.61,429.19 408.33,429.13 409.05,429.48 409.77,429.33 410.49,429.62 411.21,430.12 411.94,430.44 412.66,430.48 413.38,429.89 414.10,431.06 414.82,430.13 415.54,430.55 416.26,430.03 416.98,430.30 417.70,430.72 418.42,430.48 419.14,431.43 419.86,430.50 420.58,430.48 421.30,431.42 422.02,430.44 422.75,430.87 423.47,430.81 424.19,431.47 424.91,430.75 425.63,430.81 426.35,431.08 427.07,431.50 427.79,430.89 428.51,430.75 429.23,431.12 429.95,430.94 430.67,431.59 431.39,431.36 432.11,431.32 432.83,431.45 433.55,430.49 434.28,431.44 435.00,431.86 435.72,431.38 436.44,432.14 437.16,431.64 437.88,431.53 438.60,432.05 439.32,432.03 440.04,432.30 440.76,431.95 441.48,432.29 442.20,431.43 442.92,431.88 443.64,432.25 444.36,432.74 445.09,431.49 445.81,431.81 446.53,432.16 447.25,432.30 447.97,432.36 448.69,432.64 449.41,431.81 450.13,432.47 450.85,433.12 451.57,432.88 452.29,433.63 453.01,432.48 453.73,432.48 454.45,432.16 455.17,432.08 455.89,433.18 456.62,432.77 457.34,432.62 458.06,432.73 458.78,433.25 459.50,432.82 460.22,432.97 460.94,432.70 461.66,433.25 462.38,433.37 463.10,433.51 463.82,433.51 464.54,433.69 465.26,433.58 465.98,433.31 466.70,433.37 467.43,433.10 468.15,433.23 468.87,433.44 469.59,434.12 470.31,433.54 471.03,433.37 471.75,434.30 472.47,434.27 473.19,434.25 473.91,434.32 474.63,434.09 475.35,434.37 476.07,433.93 476.79,434.54 477.51,434.20 478.23,434.37 478.96,434.58 479.68,433.90 480.40,434.30 481.12,434.15 481.84,434.50 482.56,434.17 483.28,434.24 484.00,434.55 484.72,435.17 485.44,434.29 486.16,434.37 486.88,434.59 487.60,434.60 488.32,434.68 489.04,434.69 489.77,435.15 490.49,434.85 491.21,434.76 491.93,435.12 492.65,435.28 493.37,434.33 494.09,434.80 494.81,435.16 495.53,435.26 496.25,436.04 496.97,435.65 497.69,435.28 498.41,434.78 499.13,435.97 499.85,435.54 500.57,434.66 501.30,435.13 502.02,435.25 502.74,435.01 503.46,435.50 504.18,435.56 504.90,435.28 505.62,435.27 506.34,435.96 507.06,435.10 507.78,436.26 508.50,435.93 509.22,434.67 509.94,435.93 510.66,435.56 511.38,436.17 512.11,435.96 512.83,436.13 513.55,436.05 514.27,435.72 514.99,435.38 515.71,435.71 516.43,435.51 517.15,436.25 517.87,435.61 518.59,435.95 519.31,435.70 520.03,436.34 520.75,436.31 521.47,435.80 522.19,436.08 522.91,436.29 523.64,436.59 524.36,436.42 525.08,436.25 525.80,436.20 526.52,436.66 527.24,436.62 527.96,436.39 528.68,436.94 529.40,436.28 530.12,436.63 530.84,436.70 531.56,437.50 532.28,437.25 533.00,437.10 533.72,436.97 534.45,437.17 535.17,436.71 535.89,436.82 536.61,436.98 537.33,437.60 538.05,436.48 538.77,437.07 539.49,436.80 540.21,437.25 540.93,437.05 541.65,436.85 542.37,437.03 543.09,436.81 543.81,437.22 544.53,436.52 545.25,437.84 545.98,437.42 546.70,436.94 547.42,437.37 548.14,437.46 548.86,437.92 549.58,436.96 550.30,438.01 551.02,437.24 551.74,437.37 552.46,437.17 553.18,437.00 553.90,437.74 554.62,437.80 555.34,437.66 556.06,438.14 556.79,437.33 557.51,437.76 558.23,437.60 558.95,438.05 559.67,437.69 560.39,437.93 561.11,437.77 561.83,438.13 562.55,437.46 563.27,438.03 563.99,438.67 564.71,437.65 565.43,437.98 566.15,438.19 566.87,437.11 567.59,437.97 568.32,438.41 569.04,438.19 569.76,437.89 570.48,438.11 571.20,437.65 571.92,437.73 572.64,438.36 573.36,438.11 574.08,437.93 574.80,438.30 575.52,438.33 576.24,437.92 576.96,438.08 577.68,438.70 578.40,438.44 579.13,438.42 579.85,438.34 580.57,438.56 581.29,437.91 582.01,438.68 582.73,438.73 583.45,438.33 584.17,439.15 584.89,438.77 585.61,438.26 586.33,438.90 587.05,438.77 587.77,438.16 588.49,438.38 589.21,438.53 589.93,438.49 590.66,438.80 591.38,438.50 592.10,438.68 592.82,437.83 593.54,438.48 594.26,438.78 594.98,438.70 595.70,438.68" fill="none" stroke="#ff0000" stroke-width="1.35" stroke-linejoin="round"/>
<path d="M203.55,388.35L211.55,388.35M207.55,384.35L207.55,392.35M204.75,385.55L210.35,391.15M204.75,391.15L210.35,385.55" stroke="#ff0000" stroke-width="1" fill="none"/>
<path d="M303.08,399.01L311.08,399.01M307.08,395.01L307.08,403.01M304.28,396.21L309.88,401.81M304.28,401.81L309.88,396.21" stroke="#ff0000" stroke-width="1" fill="none"/>
<path d="M402.60,429.47L410.60,429.47M406.60,425.47L406.60,433.47M403.80,426.67L409.40,432.27M403.80,432.27L409.40,426.67" stroke="#ff0000" stroke-width="1" fill="none"/>
<path d="M502.13,435.61L510.13,435.61M506.13,431.61L506.13,439.61M503.33,432.81L508.93,438.41M503.33,438.41L508.93,432.81" stroke="#ff0000" stroke-width="1" fill="none"/>
<path d="M197.60,442.00 197.80,440.00 198.00,438.01 198.20,436.03 198.40,434.06 198.60,432.09 198.79,430.13 198.99,428.18 199.19,426.23 199.57,422.56 199.95,418.91 200.33,415.28 200.70,411.68 201.08,408.10 201.46,404.55 201.84,401.02 202.22,397.51 202.59,394.02 202.97,390.55 203.35,387.11 203.73,383.69 204.10,380.28 204.48,376.90 204.86,373.54 205.24,370.20 205.62,366.87 205.99,363.57 206.37,360.28 206.75,357.01 207.13,353.76 207.51,350.53 207.88,347.27 208.26,343.95 208.64,340.59 209.02,337.22 209.39,333.89 209.77,330.63 210.15,327.46 210.53,324.42 210.91,321.55 211.28,318.87 211.66,316.43 212.04,314.24 212.42,312.16 212.80,310.14 213.17,308.17 213.55,306.26 213.93,304.43 214.31,302.67 214.68,300.98 215.06,299.38 215.44,297.86 215.82,296.44 216.20,295.11 216.57,293.88 216.95,292.76 217.33,291.75 217.71,290.84 218.09,289.95 218.46,289.05 218.84,288.17 219.22,287.30 219.60,286.45 219.97,285.63 220.35,284.83 220.73,284.07 221.11,283.34 221.49,282.66 221.69,282.32 222.41,281.20 223.13,280.30 223.85,279.65 224.57,279.28 225.29,279.21 226.01,279.43 226.73,279.88 227.45,280.52 228.17,281.32 228.89,282.24 229.61,284.07 230.33,284.73 231.05,285.79 231.77,288.23 232.49,289.82 233.22,290.43 233.94,289.89 234.66,292.47 235.38,293.70 236.10,291.41 236.82,295.05 237.54,298.19 238.26,300.28 238.98,299.56 239.70,303.81 240.42,303.17 241.14,305.71 241.86,306.57 242.58,310.89 243.30,310.85 244.03,315.97 244.75,315.99 245.47,316.49 246.19,318.94 246.91,323.93 247.63,322.98 248.35,325.27 249.07,327.89 249.79,330.67 250.51,332.13 251.23,334.42 251.95,334.59 252.67,337.04 253.39,338.21 254.11,340.48 254.83,344.47 255.56,344.78 256.28,344.52 257.00,349.80 257.72,350.20 258.44,353.12 259.16,355.05 259.88,355.77 260.60,356.89 261.32,358.83 262.04,360.88 262.76,362.16 263.48,366.22 264.20,365.65 264.92,367.64 265.64,369.73 266.37,371.11 267.09,373.30 267.81,373.02 268.53,375.98 269.25,377.87 269.97,377.91 270.69,379.56 271.41,380.30 272.13,380.17 272.85,382.53 273.57,383.38 274.29,382.80 275.01,386.58 275.73,386.27 276.45,386.70 277.17,387.49 277.90,388.02 278.62,391.16 279.34,391.36 280.06,392.94 280.78,394.27 281.50,395.54 282.22,397.10 282.94,396.97 283.66,397.74 284.38,399.91 285.10,399.72 285.82,401.48 286.54,402.64 287.26,404.44 287.98,402.93 288.71,403.87 289.43,405.10 290.15,405.69 290.87,406.73 291.59,406.16 292.31,406.97 293.03,407.07 293.75,407.72 294.47,409.05 295.19,409.53 295.91,408.81 296.63,410.37 297.35,409.64 298.07,409.65 298.79,411.20 299.51,410.45 300.24,411.12 300.96,411.16 301.68,412.10 302.40,412.06 303.12,412.10 303.84,411.63 304.56,412.49 305.28,412.88 306.00,414.09 306.72,413.49 307.44,414.27 308.16,414.20 308.88,414.27 309.60,414.15 310.32,414.58 311.05,415.03 311.77,415.38 312.49,414.89 313.21,416.25 313.93,416.00 314.65,415.54 315.37,416.55 316.09,416.24 316.81,416.42 317.53,416.08 318.25,416.70 318.97,418.27 319.69,417.64 320.41,417.68 321.13,417.60 321.85,418.00 322.58,417.44 323.30,418.00 324.02,419.27 324.74,419.17 325.46,420.02 326.18,418.35 326.90,419.40 327.62,419.56 328.34,420.39 329.06,420.00 329.78,419.72 330.50,420.26 331.22,420.39 331.94,420.63 332.66,419.53 333.39,420.85 334.11,421.40 334.83,421.09 335.55,421.13 336.27,421.13 336.99,421.32 337.71,421.84 338.43,421.53 339.15,421.37 339.87,422.31 340.59,420.85 341.31,421.09 342.03,422.82 342.75,422.25 343.47,421.72 344.19,421.67 344.92,421.57 345.64,423.33 346.36,423.09 347.08,422.91 347.80,422.52 348.52,423.35 349.24,422.76 349.96,422.84 350.68,422.81 351.40,423.81 352.12,423.23 352.84,423.37 353.56,423.68 354.28,423.00 355.00,423.80 355.73,423.11 356.45,424.11 357.17,423.17 357.89,423.28 358.61,424.47 359.33,424.04 360.05,424.13 360.77,424.79 361.49,424.10 362.21,424.27 362.93,425.00 363.65,424.66 364.37,424.40 365.09,424.95 365.81,425.28 366.53,424.34 367.26,425.58 367.98,425.09 368.70,424.84 369.42,425.07 370.14,426.29 370.86,425.73 371.58,425.73 372.30,425.85 373.02,425.58 373.74,425.70 374.46,425.96 375.18,425.99 375.90,425.76 376.62,425.75 377.34,427.17 378.07,425.52 378.79,426.77 379.51,426.29 380.23,427.40 380.95,427.01 381.67,427.41 382.39,426.50 383.11,426.67 383.83,427.12 384.55,427.28 385.27,427.13 385.99,427.77 386.71,427.71 387.43,427.86 388.15,427.28 388.87,427.69 389.60,428.31 390.32,427.72 391.04,427.72 391.76,427.44 392.48,428.32 393.20,428.01 393.92,427.39 394.64,428.46 395.36,428.55 396.08,428.27 396.80,428.75 397.52,428.62 398.24,428.90 398.96,429.08 399.68,428.48 400.41,429.06 401.13,429.38 401.85,429.16 402.57,429.17 403.29,429.06 404.01,428.87 404.73,428.60 405.45,429.87 406.17,429.54 406.89,430.23 407.61,429.48 408.33,429.42 409.05,429.95 409.77,430.11 410.49,430.21 411.21,430.47 411.94,429.68 412.66,429.24 413.38,430.50 414.10,429.47 414.82,430.21 415.54,430.77 416.26,430.06 416.98,430.04 417.70,430.24 418.42,430.56 419.14,429.86 419.86,430.68 420.58,430.37 421.30,430.42 422.02,431.08 422.75,431.50 423.47,431.51 424.19,431.04 424.91,430.80 425.63,431.68 426.35,431.33 427.07,430.51 427.79,431.84 428.51,431.02 429.23,431.12 429.95,431.00 430.67,431.92 431.39,431.27 432.11,431.99 432.83,430.99 433.55,431.88 434.28,431.45 435.00,431.95 435.72,431.64 436.44,432.33 437.16,431.68 437.88,431.61 438.60,431.89 439.32,431.32 440.04,431.84 440.76,431.73 441.48,431.88 442.20,431.41 442.92,432.41 443.64,432.31 444.36,432.34 445.09,432.07 445.81,432.25 446.53,432.08 447.25,432.32 447.97,432.67 448.69,432.55 449.41,432.40 450.13,433.47 450.85,432.13 451.57,432.91 452.29,432.87 453.01,432.69 453.73,432.92 454.45,433.41 455.17,433.00 455.89,432.44 456.62,432.61 457.34,432.58 458.06,433.29 458.78,433.21 459.50,432.78 460.22,432.66 460.94,433.24 461.66,433.65 462.38,434.05 463.10,432.85 463.82,433.98 464.54,433.30 465.26,433.17 465.98,432.34 466.70,433.51 467.43,433.66 468.15,433.49 468.87,433.51 469.59,433.25 470.31,433.53 471.03,434.10 471.75,434.64 472.47,433.79 473.19,434.19 473.91,433.46 474.63,434.50 475.35,433.98 476.07,434.37 476.79,434.46 477.51,433.56 478.23,434.15 478.96,434.32 479.68,434.02 480.40,434.62 481.12,434.50 481.84,434.64 482.56,433.72 483.28,434.36 484.00,434.29 484.72,434.15 485.44,434.66 486.16,434.69 486.88,435.27 487.60,434.53 488.32,434.65 489.04,434.93 489.77,434.38 490.49,435.50 491.21,434.74 491.93,435.43 492.65,435.38 493.37,435.08 494.09,434.55 494.81,435.50 495.53,435.47 496.25,435.58 496.97,434.45 497.69,435.02 498.41,435.10 499.13,434.54 499.85,435.22 500.57,436.11 501.30,435.56 502.02,435.85 502.74,434.72 503.46,435.99 504.18,435.41 504.90,435.74 505.62,435.74 506.34,435.61 507.06,435.70 507.78,435.93 508.50,436.16 509.22,435.98 509.94,436.15 510.66,436.14 511.38,435.80 512.11,435.93 512.83,435.74 513.55,436.03 514.27,435.29 514.99,436.27 515.71,436.39 516.43,435.71 517.15,436.35 517.87,436.09 518.59,435.82 519.31,436.23 520.03,436.35 520.75,435.91 521.47,436.17 522.19,436.50 522.91,436.77 523.64,436.51 524.36,436.99 525.08,436.74 525.80,436.85 526.52,436.39 527.24,436.26 527.96,436.79 528.68,436.74 529.40,437.00 530.12,437.13 530.84,436.82 531.56,436.51 532.28,436.57 533.00,436.55 533.72,436.88 534.45,437.77 535.17,436.52 535.89,436.41 536.61,436.58 537.33,436.61 538.05,436.57 538.77,436.05 539.49,436.89 540.21,436.49 540.93,436.78 541.65,436.85 542.37,437.15 543.09,437.25 543.81,437.55 544.53,436.98 545.25,437.32 545.98,437.65 546.70,437.52 547.42,437.69 548.14,436.76 548.86,437.42 549.58,437.32 550.30,437.80 551.02,437.76 551.74,437.07 552.46,437.54 553.18,437.40 553.90,436.87 554.62,436.81 555.34,437.31 556.06,437.41 556.79,437.52 557.51,437.72 558.23,436.95 558.95,438.08 559.67,437.72 560.39,438.37 561.11,438.17 561.83,437.62 562.55,437.63 563.27,437.69 563.99,437.94 564.71,438.09 565.43,438.05 566.15,438.02 566.87,437.54 567.59,437.44 568.32,437.81 569.04,438.16 569.76,438.32 570.48,437.92 571.20,438.12 571.92,438.68 572.64,437.62 573.36,438.11 574.08,438.24 574.80,438.44 575.52,438.46 576.24,437.89 576.96,438.53 577.68,438.20 578.40,438.04 579.13,437.65 579.85,438.09 580.57,438.32 581.29,438.48 582.01,438.06 582.73,438.03 583.45,438.53 584.17,438.21 584.89,438.47 585.61,438.99 586.33,438.80 587.05,438.21 587.77,438.02 588.49,438.29 589.21,438.60 589.93,438.79 590.66,438.39 591.38,438.48 592.10,439.15 592.82,438.41 593.54,438.88 594.26,438.43 594.98,438.50 595.70,438.45" fill="none" stroke="#00e000" stroke-width="1.35" stroke-linejoin="round"/>
<rect x="204.35" y="346.93" width="6.40" height="6.40" fill="none" stroke="#00e000" stroke-width="1"/>
<rect x="303.88" y="410.55" width="6.40" height="6.40" fill="none" stroke="#00e000" stroke-width="1"/>
<rect x="403.40" y="426.27" width="6.40" height="6.40" fill="none" stroke="#00e000" stroke-width="1"/>
<rect x="502.93" y="432.41" width="6.40" height="6.40" fill="none" stroke="#00e000" stroke-width="1"/>
<path d="M197.60,442.00 197.80,435.12 198.00,428.28 198.20,421.54 198.40,414.92 198.60,408.49 198.79,402.28 198.99,396.33 199.19,390.70 199.57,381.02 199.95,372.93 200.33,366.13 200.70,359.80 201.08,353.89 201.46,348.37 201.84,343.21 202.22,338.36 202.59,333.79 202.97,329.47 203.35,325.37 203.73,321.43 204.10,317.64 204.48,313.96 204.86,310.34 205.24,306.80 205.62,303.52 205.99,300.44 206.37,297.52 206.75,294.70 207.13,291.93 207.51,289.16 207.88,286.33 208.26,283.33 208.64,280.11 209.02,276.76 209.39,273.39 209.77,270.10 210.15,267.00 210.53,264.20 210.91,261.80 211.28,259.91 211.66,258.59 212.04,257.44 212.42,256.33 212.80,255.27 213.17,254.26 213.55,253.30 213.93,252.41 214.31,251.58 214.68,250.82 215.06,250.14 215.44,249.55 215.82,249.04 216.20,248.62 216.57,248.30 216.95,248.08 217.33,247.97 217.71,247.98 218.09,248.15 218.46,248.46 218.84,248.90 219.22,249.45 219.60,250.09 219.97,250.81 220.35,251.58 220.73,252.39 221.11,253.23 221.49,254.07 221.69,254.51 222.41,256.20 223.13,258.28 223.85,260.66 224.57,263.21 225.29,265.81 226.01,268.55 226.73,271.46 227.45,274.51 228.17,277.67 228.89,280.92 229.61,284.55 230.33,288.03 231.05,291.25 231.77,295.17 232.49,296.88 233.22,301.42 233.94,306.09 234.66,308.67 235.38,310.36 236.10,314.89 236.82,319.96 237.54,318.37 238.26,322.80 238.98,327.10 239.70,330.16 240.42,331.76 241.14,333.45 241.86,338.31 242.58,339.47 243.30,342.92 244.03,344.03 244.75,347.75 245.47,350.51 246.19,350.41 246.91,352.48 247.63,353.51 248.35,356.74 249.07,356.45 249.79,359.46 250.51,359.75 251.23,363.30 251.95,363.28 252.67,366.49 253.39,368.03 254.11,369.01 254.83,373.15 255.56,374.18 256.28,373.32 257.00,377.78 257.72,378.49 258.44,379.14 259.16,379.86 259.88,382.85 260.60,383.67 261.32,385.90 262.04,386.48 262.76,386.49 263.48,388.01 264.20,389.16 264.92,389.59 265.64,390.50 266.37,391.12 267.09,392.10 267.81,393.11 268.53,392.46 269.25,394.25 269.97,393.20 270.69,392.88 271.41,393.75 272.13,393.62 272.85,396.36 273.57,395.89 274.29,397.04 275.01,397.40 275.73,398.50 276.45,398.61 277.17,397.70 277.90,398.29 278.62,398.46 279.34,399.02 280.06,399.76 280.78,401.30 281.50,401.37 282.22,401.34 282.94,401.52 283.66,403.05 284.38,403.63 285.10,404.08 285.82,403.32 286.54,404.43 287.26,405.43 287.98,406.15 288.71,405.86 289.43,407.54 290.15,407.07 290.87,407.67 291.59,408.06 292.31,407.99 293.03,408.25 293.75,407.11 294.47,409.18 295.19,409.21 295.91,410.43 296.63,411.27 297.35,410.04 298.07,409.94 298.79,411.93 299.51,411.75 300.24,411.43 300.96,412.32 301.68,413.99 302.40,412.45 303.12,413.38 303.84,413.21 304.56,414.40 305.28,413.70 306.00,413.89 306.72,415.09 307.44,414.71 308.16,415.55 308.88,415.72 309.60,416.16 310.32,416.14 311.05,416.48 311.77,415.75 312.49,416.68 313.21,417.35 313.93,416.29 314.65,416.91 315.37,416.88 316.09,417.61 316.81,417.42 317.53,418.00 318.25,418.61 318.97,418.26 319.69,418.42 320.41,418.60 321.13,418.42 321.85,419.85 322.58,419.02 323.30,419.72 324.02,419.62 324.74,419.43 325.46,419.77 326.18,420.27 326.90,419.74 327.62,420.28 328.34,419.95 329.06,419.95 329.78,420.85 330.50,421.34 331.22,420.92 331.94,420.71 332.66,421.09 333.39,421.92 334.11,422.30 334.83,422.08 335.55,422.22 336.27,421.61 336.99,422.00 337.71,421.76 338.43,422.33 339.15,421.64 339.87,422.53 340.59,422.41 341.31,422.97 342.03,422.70 342.75,422.53 343.47,422.79 344.19,422.68 344.92,423.65 345.64,423.29 346.36,422.84 347.08,423.61 347.80,423.91 348.52,424.05 349.24,424.29 349.96,424.10 350.68,423.65 351.40,424.18 352.12,424.50 352.84,424.94 353.56,425.20 354.28,423.75 355.00,425.11 355.73,424.96 356.45,425.32 357.17,425.13 357.89,425.49 358.61,425.36 359.33,424.87 360.05,425.92 360.77,425.46 361.49,425.82 362.21,425.57 362.93,426.27 363.65,425.89 364.37,426.58 365.09,427.03 365.81,426.90 366.53,426.84 367.26,427.00 367.98,426.75 368.70,426.24 369.42,427.27 370.14,426.69 370.86,426.90 371.58,427.35 372.30,427.53 373.02,427.04 373.74,427.11 374.46,427.53 375.18,427.53 375.90,427.56 376.62,428.18 377.34,427.67 378.07,427.67 378.79,427.15 379.51,428.48 380.23,428.39 380.95,428.08 381.67,428.43 382.39,428.43 383.11,428.34 383.83,428.54 384.55,428.51 385.27,428.39 385.99,429.30 386.71,428.49 387.43,429.69 388.15,428.17 388.87,428.56 389.60,429.24 390.32,428.66 391.04,429.20 391.76,429.04 392.48,428.98 393.20,429.21 393.92,429.41 394.64,429.23 395.36,429.62 396.08,429.76 396.80,430.05 397.52,430.45 398.24,429.18 398.96,429.56 399.68,430.48 400.41,429.84 401.13,429.97 401.85,430.97 402.57,430.50 403.29,430.28 404.01,429.63 404.73,429.93 405.45,429.92 406.17,430.35 406.89,430.14 407.61,431.04 408.33,430.40 409.05,430.41 409.77,431.24 410.49,430.71 411.21,430.27 411.94,430.17 412.66,430.42 413.38,431.29 414.10,431.10 414.82,431.32 415.54,430.70 416.26,431.55 416.98,431.68 417.70,431.94 418.42,431.30 419.14,431.26 419.86,431.71 420.58,431.82 421.30,431.65 422.02,431.12 422.75,432.18 423.47,431.74 424.19,431.69 424.91,431.68 425.63,431.39 426.35,431.60 427.07,431.86 427.79,431.46 428.51,431.63 429.23,431.99 429.95,432.06 430.67,432.63 431.39,432.19 432.11,432.57 432.83,432.75 433.55,432.47 434.28,433.06 435.00,432.79 435.72,432.70 436.44,432.43 437.16,432.71 437.88,432.49 438.60,432.10 439.32,432.42 440.04,433.20 440.76,433.47 441.48,433.19 442.20,433.23 442.92,433.67 443.64,433.62 444.36,433.66 445.09,433.30 445.81,432.60 446.53,432.54 447.25,433.58 447.97,433.42 448.69,433.79 449.41,433.93 450.13,433.41 450.85,433.41 451.57,433.70 452.29,433.28 453.01,433.67 453.73,433.20 454.45,433.82 455.17,433.37 455.89,433.79 456.62,433.71 457.34,433.57 458.06,434.32 458.78,434.14 459.50,433.94 460.22,434.06 460.94,433.90 461.66,434.33 462.38,434.55 463.10,434.15 463.82,434.05 464.54,434.48 465.26,433.80 465.98,434.02 466.70,434.00 467.43,434.06 468.15,434.68 468.87,433.66 469.59,434.70 470.31,434.35 471.03,434.26 471.75,434.43 472.47,434.52 473.19,434.90 473.91,434.79 474.63,434.67 475.35,434.26 476.07,434.99 476.79,434.55 477.51,434.67 478.23,434.82 478.96,435.08 479.68,434.97 480.40,435.56 481.12,434.95 481.84,434.91 482.56,435.23 483.28,434.90 484.00,435.01 484.72,435.40 485.44,434.89 486.16,435.40 486.88,434.41 487.60,435.64 488.32,435.60 489.04,435.57 489.77,435.30 490.49,435.02 491.21,435.42 491.93,435.62 492.65,434.86 493.37,435.20 494.09,435.68 494.81,435.66 495.53,436.18 496.25,435.67 496.97,435.12 497.69,436.15 498.41,436.27 499.13,435.77 499.85,436.67 500.57,435.40 501.30,436.43 502.02,436.19 502.74,436.03 503.46,435.60 504.18,435.91 504.90,436.72 505.62,436.68 506.34,436.07 507.06,436.88 507.78,436.30 508.50,436.51 509.22,435.99 509.94,435.89 510.66,437.18 511.38,436.21 512.11,436.17 512.83,436.68 513.55,436.65 514.27,436.88 514.99,436.63 515.71,436.40 516.43,436.12 517.15,436.11 517.87,436.72 518.59,436.94 519.31,436.35 520.03,437.64 520.75,437.21 521.47,436.56 522.19,436.05 522.91,437.09 523.64,436.82 524.36,437.26 525.08,436.93 525.80,436.96 526.52,437.22 527.24,436.86 527.96,437.07 528.68,436.87 529.40,437.14 530.12,437.50 530.84,437.07 531.56,436.86 532.28,437.43 533.00,436.75 533.72,437.07 534.45,437.37 535.17,437.26 535.89,437.44 536.61,437.62 537.33,437.04 538.05,437.07 538.77,437.55 539.49,437.48 540.21,437.51 540.93,437.24 541.65,437.01 542.37,437.73 543.09,437.44 543.81,437.57 544.53,437.40 545.25,437.13 545.98,437.92 546.70,438.33 547.42,437.73 548.14,438.23 548.86,437.17 549.58,437.97 550.30,437.86 551.02,437.71 551.74,437.74 552.46,437.97 553.18,437.85 553.90,437.56 554.62,438.00 555.34,437.31 556.06,437.82 556.79,438.73 557.51,437.69 558.23,438.57 558.95,437.91 559.67,437.31 560.39,437.71 561.11,438.45 561.83,438.37 562.55,438.12 563.27,437.67 563.99,438.40 564.71,437.83 565.43,438.11 566.15,438.26 566.87,438.30 567.59,437.72 568.32,438.77 569.04,438.67 569.76,438.04 570.48,438.02 571.20,438.79 571.92,438.68 572.64,438.78 573.36,438.25 574.08,438.66 574.80,438.00 575.52,438.23 576.24,438.41 576.96,438.45 577.68,438.36 578.40,438.28 579.13,438.57 579.85,438.51 580.57,438.36 581.29,438.65 582.01,438.33 582.73,438.71 583.45,438.93 584.17,438.64 584.89,438.19 585.61,438.25 586.33,439.26 587.05,438.67 587.77,438.95 588.49,438.91 589.21,438.93 589.93,438.91 590.66,439.02 591.38,438.96 592.10,438.82 592.82,439.29 593.54,439.31 594.26,439.29 594.98,439.31 595.70,438.78" fill="none" stroke="#0a1eff" stroke-width="1.35" stroke-linejoin="round"/>
<path d="M207.55,284.61L210.55,288.81L207.55,293.01L204.55,288.81Z" fill="none" stroke="#0a1eff" stroke-width="1"/>
<path d="M307.08,410.64L310.08,414.84L307.08,419.04L304.08,414.84Z" fill="none" stroke="#0a1eff" stroke-width="1"/>
<path d="M406.60,426.31L409.60,430.51L406.60,434.71L403.60,430.51Z" fill="none" stroke="#0a1eff" stroke-width="1"/>
<path d="M506.13,431.94L509.13,436.14L506.13,440.34L503.13,436.14Z" fill="none" stroke="#0a1eff" stroke-width="1"/>
<path d="M197.60,442.00 197.80,435.59 198.00,429.25 198.20,422.98 198.40,416.78 198.60,410.64 198.79,404.57 198.99,398.57 199.19,392.63 199.57,381.55 199.95,370.70 200.33,360.08 200.70,349.68 201.08,339.52 201.46,329.57 201.84,319.84 202.22,310.33 202.59,301.03 202.97,291.94 203.35,283.05 203.73,274.37 204.10,265.88 204.48,257.52 204.86,248.39 205.24,238.75 205.62,229.28 205.99,220.67 206.37,213.60 206.75,208.75 207.13,206.81 207.51,207.03 207.88,207.76 208.26,208.91 208.64,210.40 209.02,212.16 209.39,214.11 209.77,216.18 210.15,218.29 210.53,220.37 210.91,222.34 211.28,224.13 211.66,225.67 212.04,227.08 212.42,228.41 212.80,229.70 213.17,230.96 213.55,232.23 213.93,233.53 214.31,234.89 214.68,236.32 215.06,237.86 215.44,239.53 215.82,241.38 216.20,243.46 216.57,245.75 216.95,248.22 217.33,250.84 217.71,253.61 218.09,256.48 218.46,259.44 218.84,262.46 219.22,265.52 219.60,268.59 219.97,271.64 220.35,274.66 220.73,277.62 221.11,280.50 221.49,283.26 221.69,284.67 222.41,289.39 223.13,293.41 223.85,297.00 224.57,300.46 225.29,303.79 226.01,307.01 226.73,310.10 227.45,313.09 228.17,315.98 228.89,318.76 229.61,322.70 230.33,325.08 231.05,327.39 231.77,328.08 232.49,332.27 233.22,333.59 233.94,334.84 234.66,336.63 235.38,339.10 236.10,340.58 236.82,345.48 237.54,346.78 238.26,347.90 238.98,349.02 239.70,351.54 240.42,354.67 241.14,355.90 241.86,359.08 242.58,358.43 243.30,362.56 244.03,362.30 244.75,363.09 245.47,364.78 246.19,368.52 246.91,368.31 247.63,370.17 248.35,371.43 249.07,371.03 249.79,373.39 250.51,375.96 251.23,376.78 251.95,376.41 252.67,377.89 253.39,380.02 254.11,381.47 254.83,381.59 255.56,382.49 256.28,382.49 257.00,384.52 257.72,384.47 258.44,384.97 259.16,387.93 259.88,388.04 260.60,387.32 261.32,389.58 262.04,390.06 262.76,390.14 263.48,392.10 264.20,392.58 264.92,394.14 265.64,393.31 266.37,394.69 267.09,395.25 267.81,397.34 268.53,395.59 269.25,396.36 269.97,397.90 270.69,397.14 271.41,400.04 272.13,399.03 272.85,400.57 273.57,398.28 274.29,402.12 275.01,401.72 275.73,401.89 276.45,401.38 277.17,401.81 277.90,402.51 278.62,403.32 279.34,402.30 280.06,404.43 280.78,404.21 281.50,403.76 282.22,405.91 282.94,406.04 283.66,405.30 284.38,406.05 285.10,407.44 285.82,407.03 286.54,406.31 287.26,407.92 287.98,407.68 288.71,408.42 289.43,409.23 290.15,408.30 290.87,409.02 291.59,409.25 292.31,410.35 293.03,410.56 293.75,410.84 294.47,411.07 295.19,411.84 295.91,412.27 296.63,411.63 297.35,413.25 298.07,413.23 298.79,413.52 299.51,413.91 300.24,414.58 300.96,414.66 301.68,414.15 302.40,415.05 303.12,415.53 303.84,414.59 304.56,416.39 305.28,415.46 306.00,416.06 306.72,417.17 307.44,416.93 308.16,417.16 308.88,416.55 309.60,416.96 310.32,417.76 311.05,418.41 311.77,418.86 312.49,418.32 313.21,419.11 313.93,418.71 314.65,418.91 315.37,418.82 316.09,418.70 316.81,419.31 317.53,419.31 318.25,419.79 318.97,419.38 319.69,419.66 320.41,419.45 321.13,419.72 321.85,420.86 322.58,421.36 323.30,420.53 324.02,420.44 324.74,421.43 325.46,420.57 326.18,421.37 326.90,421.59 327.62,421.53 328.34,422.47 329.06,422.72 329.78,422.26 330.50,422.77 331.22,422.38 331.94,422.50 332.66,423.79 333.39,423.12 334.11,422.65 334.83,424.05 335.55,423.29 336.27,423.86 336.99,424.26 337.71,423.01 338.43,423.15 339.15,423.93 339.87,424.08 340.59,423.36 341.31,423.56 342.03,424.21 342.75,423.94 343.47,424.38 344.19,424.68 344.92,424.38 345.64,424.94 346.36,424.61 347.08,425.08 347.80,425.27 348.52,425.43 349.24,425.09 349.96,424.99 350.68,425.31 351.40,425.96 352.12,425.43 352.84,426.17 353.56,426.36 354.28,426.07 355.00,425.73 355.73,425.88 356.45,426.03 357.17,425.78 357.89,426.09 358.61,426.69 359.33,426.30 360.05,426.83 360.77,426.64 361.49,426.65 362.21,427.01 362.93,427.68 363.65,427.21 364.37,427.36 365.09,427.36 365.81,427.57 366.53,427.94 367.26,428.22 367.98,427.37 368.70,427.40 369.42,427.65 370.14,427.90 370.86,427.17 371.58,427.77 372.30,428.11 373.02,427.86 373.74,428.30 374.46,428.07 375.18,428.31 375.90,428.29 376.62,428.55 377.34,428.83 378.07,428.52 378.79,428.35 379.51,429.24 380.23,429.16 380.95,429.45 381.67,428.74 382.39,429.25 383.11,428.88 383.83,429.61 384.55,429.05 385.27,429.67 385.99,429.69 386.71,429.37 387.43,429.80 388.15,429.95 388.87,429.43 389.60,429.87 390.32,429.43 391.04,429.00 391.76,430.26 392.48,430.24 393.20,430.76 393.92,430.69 394.64,430.06 395.36,430.24 396.08,430.31 396.80,430.30 397.52,430.86 398.24,431.24 398.96,430.25 399.68,430.62 400.41,430.34 401.13,430.84 401.85,430.60 402.57,431.15 403.29,431.00 404.01,431.12 404.73,430.97 405.45,430.64 406.17,430.98 406.89,432.36 407.61,431.37 408.33,431.38 409.05,431.13 409.77,431.43 410.49,431.80 411.21,431.88 411.94,431.76 412.66,431.95 413.38,431.21 414.10,431.56 414.82,431.82 415.54,431.53 416.26,431.14 416.98,432.06 417.70,432.04 418.42,432.19 419.14,432.58 419.86,432.40 420.58,432.56 421.30,432.09 422.02,432.14 422.75,432.04 423.47,432.69 424.19,432.08 424.91,432.85 425.63,432.60 426.35,432.11 427.07,432.17 427.79,432.27 428.51,431.94 429.23,432.37 429.95,432.88 430.67,432.92 431.39,433.16 432.11,432.84 432.83,433.24 433.55,433.23 434.28,433.40 435.00,433.70 435.72,432.23 436.44,432.85 437.16,433.96 437.88,433.09 438.60,433.49 439.32,434.10 440.04,433.45 440.76,433.33 441.48,433.24 442.20,433.09 442.92,433.83 443.64,433.59 444.36,433.37 445.09,433.45 445.81,433.55 446.53,433.69 447.25,433.32 447.97,434.25 448.69,434.37 449.41,433.26 450.13,433.76 450.85,433.56 451.57,433.91 452.29,434.15 453.01,434.22 453.73,434.05 454.45,434.30 455.17,434.20 455.89,434.24 456.62,433.96 457.34,434.00 458.06,433.76 458.78,434.60 459.50,434.41 460.22,434.09 460.94,434.34 461.66,435.35 462.38,434.41 463.10,434.57 463.82,434.77 464.54,434.78 465.26,434.93 465.98,434.30 466.70,434.51 467.43,434.70 468.15,434.43 468.87,434.52 469.59,435.17 470.31,435.28 471.03,435.30 471.75,434.72 472.47,435.02 473.19,434.63 473.91,434.90 474.63,435.19 475.35,435.58 476.07,435.27 476.79,434.45 477.51,435.48 478.23,435.56 478.96,435.39 479.68,434.88 480.40,435.39 481.12,435.79 481.84,435.65 482.56,435.53 483.28,435.48 484.00,435.20 484.72,434.73 485.44,435.15 486.16,435.42 486.88,435.68 487.60,435.98 488.32,435.54 489.04,435.34 489.77,435.52 490.49,435.87 491.21,435.64 491.93,435.97 492.65,435.98 493.37,436.03 494.09,435.96 494.81,436.04 495.53,435.71 496.25,436.08 496.97,436.14 497.69,435.79 498.41,435.94 499.13,435.82 499.85,436.48 500.57,435.82 501.30,436.29 502.02,436.67 502.74,436.40 503.46,436.79 504.18,436.74 504.90,436.58 505.62,436.15 506.34,436.94 507.06,436.43 507.78,436.64 508.50,436.07 509.22,436.55 509.94,436.44 510.66,436.21 511.38,437.06 512.11,436.84 512.83,437.24 513.55,437.06 514.27,436.70 514.99,436.89 515.71,436.73 516.43,437.02 517.15,437.15 517.87,436.99 518.59,437.26 519.31,437.37 520.03,437.55 520.75,437.10 521.47,436.95 522.19,437.52 522.91,437.30 523.64,437.92 524.36,437.59 525.08,437.21 525.80,437.68 526.52,437.15 527.24,437.44 527.96,437.22 528.68,437.54 529.40,437.85 530.12,437.42 530.84,437.21 531.56,437.63 532.28,437.37 533.00,437.74 533.72,437.65 534.45,437.17 535.17,437.59 535.89,437.91 536.61,437.46 537.33,437.64 538.05,437.85 538.77,437.48 539.49,438.65 540.21,437.57 540.93,437.17 541.65,437.70 542.37,438.42 543.09,437.41 543.81,437.06 544.53,437.70 545.25,438.24 545.98,438.14 546.70,437.99 547.42,437.91 548.14,437.62 548.86,437.83 549.58,438.74 550.30,438.15 551.02,438.12 551.74,437.50 552.46,438.29 553.18,438.57 553.90,438.25 554.62,438.09 555.34,438.77 556.06,437.87 556.79,438.28 557.51,437.99 558.23,438.06 558.95,438.12 559.67,437.87 560.39,437.81 561.11,438.48 561.83,438.39 562.55,438.06 563.27,438.36 563.99,438.61 564.71,438.42 565.43,438.73 566.15,438.64 566.87,439.58 567.59,438.48 568.32,437.96 569.04,438.33 569.76,438.36 570.48,438.54 571.20,438.85 571.92,438.47 572.64,438.63 573.36,438.71 574.08,438.61 574.80,438.88 575.52,438.68 576.24,438.53 576.96,438.44 577.68,438.72 578.40,438.53 579.13,438.75 579.85,439.52 580.57,439.44 581.29,438.92 582.01,439.22 582.73,438.71 583.45,439.31 584.17,439.05 584.89,439.11 585.61,439.18 586.33,439.15 587.05,438.99 587.77,438.97 588.49,439.18 589.21,438.98 589.93,438.88 590.66,439.12 591.38,439.29 592.10,439.30 592.82,439.25 593.54,439.28 594.26,439.11 594.98,438.32 595.70,438.81" fill="none" stroke="#000000" stroke-width="1.35" stroke-linejoin="round"/>
<path d="M202.95,203.42L212.15,203.42L207.55,211.70Z" fill="none" stroke="#000000" stroke-width="1"/>
<path d="M302.48,412.89L311.68,412.89L307.08,421.17Z" fill="none" stroke="#000000" stroke-width="1"/>
<path d="M402.00,427.56L411.20,427.56L406.60,435.84Z" fill="none" stroke="#000000" stroke-width="1"/>
<path d="M501.53,432.83L510.73,432.83L506.13,441.11Z" fill="none" stroke="#000000" stroke-width="1"/>
<path d="M197.60,442.00 197.80,428.74 198.00,415.67 198.20,402.80 198.40,390.15 198.60,377.74 198.79,365.57 198.99,353.66 199.19,342.04 199.57,320.79 199.95,300.71 200.33,281.89 200.70,264.46 201.08,248.50 201.46,234.13 201.84,221.45 202.22,210.57 202.59,201.58 202.97,194.60 203.35,189.73 203.73,187.08 204.10,186.62 204.48,186.98 204.86,187.73 205.24,188.80 205.62,190.14 205.99,191.71 206.37,193.44 206.75,195.28 207.13,197.19 207.51,199.10 207.88,200.96 208.26,202.88 208.64,205.09 209.02,207.54 209.39,210.15 209.77,212.88 210.15,215.65 210.53,218.40 210.91,221.08 211.28,223.61 211.66,225.95 212.04,228.16 212.42,230.29 212.80,232.37 213.17,234.41 213.55,236.42 213.93,238.43 214.31,240.46 214.68,242.51 215.06,244.62 215.44,246.79 215.82,249.05 216.20,251.41 216.57,253.85 216.95,256.37 217.33,258.94 217.71,261.56 218.09,264.21 218.46,266.88 218.84,269.55 219.22,272.21 219.60,274.85 219.97,277.46 220.35,280.01 220.73,282.50 221.11,284.91 221.49,287.24 221.69,288.42 222.41,292.43 223.13,295.95 223.85,299.15 224.57,302.21 225.29,305.15 226.01,307.97 226.73,310.67 227.45,313.28 228.17,315.78 228.89,318.20 229.61,319.54 230.33,322.29 231.05,323.18 231.77,326.77 232.49,329.37 233.22,333.47 233.94,333.73 234.66,333.44 235.38,337.80 236.10,339.80 236.82,341.36 237.54,342.22 238.26,346.90 238.98,345.04 239.70,348.16 240.42,349.86 241.14,352.38 241.86,352.19 242.58,356.26 243.30,356.72 244.03,359.02 244.75,361.87 245.47,362.35 246.19,363.04 246.91,365.36 247.63,366.83 248.35,367.79 249.07,369.76 249.79,371.13 250.51,371.23 251.23,373.16 251.95,372.96 252.67,373.88 253.39,374.43 254.11,375.68 254.83,377.66 255.56,378.05 256.28,380.20 257.00,379.87 257.72,381.46 258.44,380.90 259.16,383.30 259.88,383.46 260.60,384.96 261.32,384.71 262.04,385.46 262.76,387.39 263.48,385.97 264.20,387.73 264.92,389.78 265.64,390.08 266.37,391.37 267.09,392.11 267.81,391.44 268.53,393.37 269.25,392.27 269.97,394.20 270.69,393.91 271.41,393.05 272.13,394.96 272.85,395.26 273.57,394.93 274.29,396.44 275.01,396.37 275.73,397.71 276.45,397.89 277.17,398.02 277.90,398.54 278.62,399.46 279.34,399.27 280.06,399.46 280.78,399.85 281.50,400.63 282.22,401.64 282.94,401.04 283.66,401.34 284.38,402.84 285.10,404.02 285.82,403.14 286.54,402.80 287.26,403.28 287.98,404.87 288.71,403.78 289.43,405.47 290.15,404.80 290.87,405.96 291.59,405.55 292.31,406.20 293.03,407.01 293.75,406.86 294.47,408.02 295.19,408.24 295.91,408.59 296.63,409.26 297.35,408.65 298.07,409.02 298.79,409.89 299.51,410.78 300.24,410.36 300.96,410.81 301.68,410.96 302.40,411.64 303.12,412.08 303.84,411.55 304.56,412.92 305.28,413.00 306.00,414.12 306.72,413.68 307.44,414.00 308.16,414.19 308.88,413.98 309.60,414.83 310.32,414.54 311.05,415.18 311.77,415.44 312.49,416.37 313.21,415.46 313.93,415.57 314.65,416.58 315.37,416.60 316.09,417.40 316.81,416.89 317.53,417.45 318.25,416.92 318.97,417.35 319.69,417.19 320.41,418.07 321.13,418.66 321.85,418.06 322.58,418.47 323.30,417.49 324.02,418.42 324.74,418.01 325.46,418.61 326.18,419.17 326.90,419.89 327.62,419.44 328.34,419.19 329.06,419.59 329.78,419.63 330.50,419.79 331.22,420.69 331.94,420.08 332.66,420.73 333.39,420.53 334.11,420.02 334.83,421.69 335.55,421.04 336.27,420.91 336.99,420.71 337.71,421.30 338.43,421.84 339.15,421.24 339.87,421.47 340.59,422.65 341.31,421.95 342.03,422.87 342.75,423.41 343.47,422.80 344.19,422.90 344.92,423.55 345.64,421.89 346.36,423.42 347.08,422.79 347.80,422.75 348.52,422.23 349.24,423.45 349.96,422.70 350.68,424.02 351.40,423.64 352.12,423.91 352.84,424.28 353.56,423.81 354.28,423.23 355.00,423.25 355.73,423.98 356.45,424.87 357.17,424.83 357.89,424.32 358.61,424.44 359.33,424.54 360.05,425.00 360.77,425.37 361.49,424.89 362.21,425.19 362.93,424.68 363.65,425.67 364.37,425.11 365.09,424.99 365.81,424.82 366.53,424.92 367.26,426.27 367.98,426.43 368.70,425.96 369.42,426.48 370.14,427.20 370.86,425.67 371.58,426.17 372.30,426.04 373.02,426.48 373.74,426.15 374.46,426.62 375.18,426.75 375.90,426.10 376.62,427.46 377.34,426.84 378.07,427.80 378.79,426.62 379.51,427.41 380.23,427.89 380.95,428.22 381.67,427.65 382.39,426.84 383.11,427.52 383.83,428.44 384.55,428.71 385.27,426.81 385.99,428.27 386.71,428.71 387.43,428.13 388.15,428.03 388.87,427.70 389.60,428.50 390.32,428.78 391.04,428.29 391.76,428.96 392.48,428.56 393.20,428.71 393.92,428.46 394.64,429.20 395.36,429.26 396.08,428.94 396.80,428.94 397.52,429.78 398.24,429.58 398.96,429.26 399.68,429.54 400.41,428.56 401.13,429.24 401.85,429.09 402.57,429.68 403.29,429.68 404.01,429.73 404.73,429.42 405.45,430.03 406.17,429.34 406.89,430.31 407.61,429.69 408.33,430.03 409.05,430.34 409.77,429.63 410.49,429.93 411.21,430.44 411.94,430.72 412.66,430.16 413.38,430.85 414.10,430.38 414.82,431.00 415.54,430.66 416.26,431.09 416.98,430.89 417.70,430.23 418.42,430.25 419.14,431.15 419.86,431.13 420.58,431.72 421.30,431.01 422.02,430.75 422.75,431.55 423.47,431.63 424.19,431.19 424.91,431.60 425.63,431.36 426.35,430.89 427.07,431.35 427.79,431.32 428.51,430.91 429.23,431.58 429.95,431.46 430.67,431.74 431.39,432.10 432.11,431.26 432.83,432.43 433.55,431.92 434.28,432.44 435.00,432.36 435.72,432.58 436.44,432.24 437.16,432.01 437.88,431.74 438.60,432.98 439.32,432.23 440.04,432.51 440.76,432.64 441.48,432.50 442.20,432.42 442.92,432.58 443.64,432.58 444.36,431.82 445.09,432.63 445.81,432.59 446.53,433.18 447.25,432.40 447.97,433.04 448.69,432.92 449.41,433.21 450.13,433.01 450.85,433.36 451.57,433.53 452.29,433.61 453.01,433.28 453.73,433.18 454.45,432.96 455.17,432.66 455.89,432.63 456.62,433.58 457.34,433.65 458.06,433.16 458.78,433.79 459.50,433.11 460.22,433.18 460.94,433.94 461.66,433.36 462.38,433.15 463.10,433.55 463.82,433.85 464.54,433.85 465.26,433.66 465.98,434.13 466.70,433.79 467.43,434.03 468.15,434.25 468.87,434.37 469.59,433.87 470.31,434.42 471.03,434.06 471.75,434.84 472.47,434.29 473.19,434.22 473.91,434.17 474.63,434.00 475.35,434.19 476.07,434.21 476.79,434.54 477.51,434.85 478.23,434.93 478.96,434.83 479.68,434.51 480.40,434.28 481.12,434.55 481.84,434.63 482.56,434.48 483.28,434.89 484.00,434.75 484.72,434.89 485.44,434.81 486.16,435.00 486.88,435.41 487.60,435.13 488.32,435.31 489.04,434.47 489.77,434.61 490.49,435.35 491.21,435.47 491.93,435.20 492.65,435.76 493.37,434.85 494.09,435.33 494.81,435.51 495.53,435.02 496.25,434.97 496.97,435.40 497.69,435.14 498.41,436.09 499.13,435.81 499.85,435.87 500.57,436.17 501.30,435.35 502.02,434.86 502.74,436.17 503.46,435.94 504.18,435.42 504.90,435.91 505.62,435.85 506.34,436.15 507.06,435.80 507.78,436.27 508.50,435.72 509.22,435.83 509.94,435.91 510.66,436.33 511.38,436.17 512.11,435.97 512.83,436.46 513.55,436.52 514.27,436.99 514.99,436.43 515.71,436.33 516.43,435.99 517.15,436.75 517.87,436.86 518.59,436.00 519.31,436.07 520.03,436.84 520.75,436.66 521.47,437.13 522.19,436.57 522.91,436.15 523.64,436.35 524.36,436.99 525.08,436.57 525.80,436.93 526.52,436.62 527.24,436.93 527.96,436.57 528.68,436.39 529.40,436.73 530.12,436.74 530.84,436.76 531.56,436.63 532.28,437.08 533.00,437.03 533.72,437.05 534.45,436.59 535.17,437.00 535.89,436.89 536.61,437.22 537.33,437.57 538.05,437.25 538.77,437.02 539.49,437.31 540.21,437.42 540.93,437.38 541.65,437.11 542.37,437.17 543.09,437.33 543.81,437.66 544.53,437.60 545.25,436.23 545.98,437.49 546.70,437.25 547.42,437.38 548.14,437.95 548.86,437.10 549.58,437.52 550.30,437.86 551.02,437.35 551.74,437.80 552.46,437.54 553.18,438.09 553.90,437.75 554.62,437.50 555.34,437.89 556.06,438.21 556.79,438.04 557.51,437.59 558.23,438.34 558.95,438.30 559.67,437.62 560.39,437.86 561.11,437.93 561.83,438.08 562.55,437.83 563.27,437.71 563.99,437.86 564.71,438.59 565.43,437.84 566.15,438.60 566.87,437.54 567.59,438.25 568.32,437.94 569.04,438.04 569.76,438.38 570.48,437.81 571.20,438.14 571.92,437.55 572.64,438.04 573.36,438.16 574.08,437.48 574.80,437.86 575.52,438.32 576.24,438.59 576.96,437.74 577.68,437.98 578.40,438.00 579.13,438.52 579.85,438.62 580.57,438.73 581.29,438.10 582.01,438.54 582.73,438.30 583.45,439.22 584.17,438.22 584.89,438.79 585.61,439.45 586.33,439.01 587.05,438.49 587.77,438.16 588.49,439.53 589.21,439.11 589.93,438.65 590.66,439.21 591.38,438.87 592.10,439.08 592.82,438.74 593.54,439.26 594.26,438.91 594.98,439.09 595.70,438.80" fill="none" stroke="#b020ff" stroke-width="1.35" stroke-linejoin="round"/>
<path d="M202.95,203.02L212.15,203.02L207.55,194.74Z" fill="none" stroke="#b020ff" stroke-width="1"/>
<path d="M302.48,417.28L311.68,417.28L307.08,409.00Z" fill="none" stroke="#b020ff" stroke-width="1"/>
<path d="M402.00,433.67L411.20,433.67L406.60,425.39Z" fill="none" stroke="#b020ff" stroke-width="1"/>
<path d="M501.53,439.55L510.73,439.55L506.13,431.27Z" fill="none" stroke="#b020ff" stroke-width="1"/>
<path d="M197.60,442.00 197.80,425.00 198.00,408.17 198.20,391.56 198.40,375.22 198.60,359.19 198.79,343.51 198.99,328.24 199.19,313.42 199.57,286.69 199.95,262.05 200.33,239.84 200.70,220.36 201.08,203.93 201.46,190.86 201.84,181.46 202.22,176.07 202.59,174.86 202.97,175.66 203.35,177.41 203.73,179.97 204.10,183.19 204.48,186.94 204.86,191.09 205.24,195.48 205.62,199.99 205.99,204.47 206.37,208.78 206.75,212.79 207.13,216.36 207.51,219.34 207.88,221.84 208.26,224.19 208.64,226.43 209.02,228.57 209.39,230.62 209.77,232.62 210.15,234.57 210.53,236.51 210.91,238.45 211.28,240.40 211.66,242.39 212.04,244.35 212.42,246.29 212.80,248.19 213.17,250.08 213.55,251.95 213.93,253.83 214.31,255.72 214.68,257.63 215.06,259.56 215.44,261.53 215.82,263.56 216.20,265.65 216.57,267.79 216.95,269.99 217.33,272.23 217.71,274.49 218.09,276.77 218.46,279.07 218.84,281.36 219.22,283.64 219.60,285.91 219.97,288.15 220.35,290.34 220.73,292.49 221.11,294.59 221.49,296.61 221.69,297.65 222.41,301.20 223.13,304.39 223.85,307.34 224.57,310.20 225.29,312.97 226.01,315.65 226.73,318.25 227.45,320.76 228.17,323.19 228.89,325.54 229.61,326.53 230.33,330.31 231.05,331.97 231.77,334.04 232.49,336.67 233.22,336.71 233.94,339.21 234.66,342.80 235.38,344.76 236.10,345.43 236.82,348.08 237.54,348.80 238.26,349.69 238.98,352.03 239.70,353.49 240.42,355.74 241.14,357.57 241.86,359.26 242.58,358.45 243.30,361.85 244.03,362.41 244.75,363.71 245.47,364.69 246.19,366.65 246.91,368.99 247.63,366.82 248.35,370.74 249.07,370.32 249.79,372.79 250.51,372.24 251.23,374.66 251.95,373.22 252.67,375.15 253.39,377.73 254.11,375.86 254.83,379.63 255.56,379.15 256.28,378.76 257.00,380.74 257.72,380.14 258.44,381.86 259.16,383.08 259.88,382.33 260.60,383.95 261.32,385.02 262.04,384.59 262.76,386.14 263.48,387.62 264.20,387.74 264.92,385.96 265.64,386.71 266.37,390.14 267.09,388.99 267.81,389.24 268.53,390.91 269.25,390.78 269.97,392.55 270.69,392.60 271.41,392.15 272.13,393.46 272.85,394.04 273.57,394.61 274.29,395.86 275.01,396.12 275.73,396.27 276.45,396.47 277.17,397.43 277.90,396.04 278.62,398.93 279.34,398.92 280.06,399.07 280.78,398.74 281.50,400.45 282.22,399.77 282.94,400.91 283.66,401.29 284.38,400.91 285.10,401.07 285.82,401.35 286.54,403.15 287.26,402.16 287.98,402.55 288.71,403.40 289.43,403.72 290.15,404.37 290.87,404.88 291.59,404.66 292.31,404.56 293.03,406.12 293.75,406.15 294.47,406.20 295.19,407.96 295.91,406.57 296.63,407.70 297.35,407.45 298.07,408.83 298.79,409.54 299.51,409.49 300.24,409.60 300.96,410.65 301.68,409.96 302.40,410.67 303.12,411.75 303.84,411.22 304.56,411.89 305.28,412.09 306.00,412.63 306.72,413.09 307.44,413.64 308.16,413.19 308.88,413.49 309.60,413.50 310.32,414.38 311.05,414.01 311.77,414.03 312.49,415.32 313.21,414.83 313.93,413.99 314.65,415.63 315.37,415.75 316.09,415.82 316.81,416.27 317.53,415.76 318.25,416.44 318.97,416.65 319.69,417.18 320.41,416.70 321.13,417.20 321.85,417.54 322.58,417.67 323.30,416.89 324.02,417.86 324.74,417.90 325.46,417.53 326.18,418.41 326.90,418.05 327.62,419.18 328.34,418.52 329.06,420.03 329.78,419.08 330.50,419.51 331.22,419.80 331.94,419.08 332.66,419.39 333.39,419.48 334.11,419.32 334.83,419.93 335.55,420.05 336.27,420.49 336.99,419.71 337.71,420.32 338.43,421.25 339.15,421.43 339.87,421.50 340.59,421.63 341.31,420.81 342.03,421.41 342.75,421.18 343.47,422.16 344.19,422.29 344.92,421.49 345.64,423.11 346.36,422.86 347.08,423.40 347.80,422.86 348.52,421.49 349.24,423.14 349.96,422.43 350.68,422.28 351.40,423.44 352.12,423.57 352.84,423.21 353.56,423.17 354.28,424.29 355.00,424.06 355.73,423.07 356.45,424.28 357.17,423.85 357.89,423.67 358.61,424.38 359.33,424.41 360.05,424.68 360.77,424.83 361.49,424.91 362.21,425.46 362.93,425.06 363.65,425.03 364.37,424.72 365.09,425.32 365.81,425.52 366.53,424.50 367.26,425.42 367.98,425.61 368.70,425.83 369.42,425.70 370.14,426.16 370.86,426.10 371.58,426.34 372.30,426.59 373.02,426.35 373.74,426.83 374.46,425.60 375.18,426.92 375.90,425.76 376.62,426.46 377.34,426.31 378.07,426.15 378.79,427.55 379.51,426.25 380.23,426.81 380.95,427.31 381.67,427.50 382.39,427.12 383.11,428.01 383.83,426.68 384.55,427.57 385.27,427.26 385.99,427.61 386.71,427.91 387.43,427.97 388.15,428.24 388.87,427.45 389.60,428.04 390.32,427.90 391.04,427.99 391.76,427.98 392.48,428.15 393.20,427.89 393.92,428.74 394.64,428.95 395.36,428.66 396.08,428.82 396.80,428.73 397.52,428.35 398.24,428.50 398.96,428.73 399.68,429.34 400.41,428.89 401.13,429.09 401.85,428.92 402.57,429.29 403.29,429.51 404.01,429.37 404.73,429.77 405.45,429.89 406.17,429.51 406.89,429.67 407.61,429.34 408.33,429.73 409.05,430.31 409.77,429.37 410.49,429.33 411.21,430.46 411.94,430.32 412.66,429.76 413.38,430.13 414.10,430.83 414.82,429.88 415.54,430.34 416.26,430.31 416.98,430.04 417.70,430.80 418.42,430.88 419.14,430.40 419.86,430.35 420.58,430.72 421.30,430.37 422.02,430.71 422.75,430.51 423.47,431.29 424.19,431.11 424.91,430.68 425.63,431.45 426.35,431.48 427.07,431.18 427.79,431.39 428.51,431.69 429.23,432.00 429.95,430.92 430.67,431.46 431.39,431.00 432.11,431.92 432.83,431.61 433.55,431.74 434.28,431.69 435.00,432.36 435.72,431.37 436.44,431.98 437.16,431.84 437.88,432.34 438.60,431.44 439.32,432.63 440.04,431.41 440.76,432.30 441.48,432.33 442.20,432.50 442.92,431.78 443.64,432.65 444.36,432.71 445.09,432.78 445.81,432.29 446.53,432.32 447.25,432.83 447.97,432.42 448.69,432.09 449.41,432.44 450.13,432.60 450.85,433.15 451.57,432.26 452.29,432.62 453.01,433.43 453.73,433.23 454.45,434.00 455.17,432.86 455.89,433.54 456.62,433.23 457.34,432.68 458.06,433.74 458.78,432.95 459.50,433.42 460.22,433.74 460.94,432.93 461.66,433.29 462.38,433.73 463.10,433.33 463.82,433.78 464.54,433.92 465.26,433.78 465.98,433.33 466.70,434.30 467.43,434.24 468.15,433.50 468.87,434.35 469.59,433.97 470.31,434.04 471.03,434.43 471.75,434.28 472.47,434.10 473.19,434.12 473.91,433.91 474.63,434.10 475.35,433.89 476.07,434.18 476.79,434.44 477.51,434.10 478.23,434.21 478.96,434.10 479.68,434.49 480.40,434.52 481.12,434.56 481.84,435.08 482.56,434.43 483.28,434.86 484.00,434.93 484.72,434.83 485.44,434.01 486.16,435.05 486.88,434.29 487.60,435.58 488.32,434.98 489.04,434.25 489.77,434.89 490.49,434.86 491.21,435.22 491.93,435.74 492.65,434.91 493.37,434.81 494.09,434.79 494.81,434.53 495.53,435.26 496.25,435.08 496.97,436.03 497.69,435.45 498.41,435.31 499.13,434.96 499.85,434.79 500.57,434.91 501.30,435.34 502.02,435.57 502.74,435.59 503.46,435.61 504.18,435.58 504.90,435.25 505.62,435.76 506.34,436.29 507.06,436.17 507.78,434.78 508.50,435.36 509.22,436.02 509.94,435.97 510.66,435.67 511.38,435.84 512.11,435.87 512.83,436.68 513.55,436.51 514.27,436.02 514.99,435.87 515.71,436.03 516.43,435.63 517.15,436.18 517.87,436.14 518.59,436.23 519.31,435.95 520.03,436.52 520.75,435.66 521.47,436.74 522.19,436.14 522.91,436.19 523.64,435.93 524.36,436.87 525.08,436.83 525.80,436.65 526.52,436.34 527.24,436.32 527.96,437.51 528.68,436.77 529.40,436.62 530.12,436.61 530.84,436.64 531.56,436.83 532.28,436.78 533.00,437.47 533.72,436.58 534.45,437.71 535.17,436.99 535.89,437.26 536.61,436.87 537.33,437.34 538.05,436.75 538.77,436.95 539.49,436.89 540.21,436.76 540.93,436.77 541.65,437.24 542.37,436.93 543.09,437.07 543.81,437.00 544.53,437.23 545.25,438.14 545.98,437.41 546.70,437.36 547.42,437.54 548.14,437.64 548.86,437.38 549.58,437.68 550.30,437.26 551.02,437.09 551.74,437.52 552.46,437.27 553.18,437.96 553.90,437.92 554.62,437.72 555.34,437.96 556.06,437.65 556.79,437.66 557.51,437.19 558.23,437.90 558.95,437.34 559.67,438.11 560.39,437.87 561.11,437.55 561.83,437.74 562.55,438.65 563.27,437.90 563.99,437.76 564.71,438.42 565.43,438.10 566.15,438.07 566.87,437.87 567.59,437.61 568.32,438.47 569.04,438.35 569.76,437.58 570.48,437.72 571.20,437.57 571.92,438.15 572.64,437.83 573.36,438.95 574.08,438.06 574.80,438.53 575.52,438.69 576.24,438.61 576.96,437.96 577.68,437.83 578.40,438.48 579.13,438.45 579.85,437.98 580.57,438.59 581.29,438.32 582.01,438.22 582.73,438.06 583.45,438.54 584.17,439.36 584.89,438.56 585.61,438.29 586.33,438.68 587.05,438.73 587.77,438.87 588.49,438.45 589.21,438.55 589.93,438.53 590.66,438.63 591.38,438.25 592.10,438.56 592.82,438.71 593.54,439.06 594.26,438.85 594.98,438.74 595.70,438.29" fill="none" stroke="#ff0000" stroke-width="1.35" stroke-linejoin="round"/>
<path d="M211.23,215.06L211.23,224.26L202.95,219.66Z" fill="none" stroke="#ff0000" stroke-width="1"/>
<path d="M310.76,408.26L310.76,417.46L302.48,412.86Z" fill="none" stroke="#ff0000" stroke-width="1"/>
<path d="M410.28,425.07L410.28,434.27L402.00,429.67Z" fill="none" stroke="#ff0000" stroke-width="1"/>
<path d="M509.81,431.11L509.81,440.31L501.53,435.71Z" fill="none" stroke="#ff0000" stroke-width="1"/>
<path d="M197.60,442.00 197.80,414.11 198.00,386.11 198.20,358.35 198.40,331.16 198.60,304.91 198.79,279.94 198.99,256.61 199.19,235.25 199.57,201.40 199.95,178.33 200.33,168.42 200.70,168.53 201.08,169.67 201.46,171.52 201.84,173.97 202.22,176.88 202.59,180.14 202.97,183.62 203.35,187.20 203.73,190.76 204.10,194.18 204.48,197.33 204.86,200.12 205.24,202.83 205.62,205.60 205.99,208.39 206.37,211.19 206.75,213.95 207.13,216.67 207.51,219.30 207.88,221.82 208.26,224.20 208.64,226.41 209.02,228.45 209.39,230.33 209.77,232.10 210.15,233.79 210.53,235.43 210.91,237.07 211.28,238.74 211.66,240.47 212.04,242.19 212.42,243.91 212.80,245.62 213.17,247.33 213.55,249.04 213.93,250.77 214.31,252.51 214.68,254.27 215.06,256.06 215.44,257.89 215.82,259.76 216.20,261.70 216.57,263.69 216.95,265.74 217.33,267.82 217.71,269.93 218.09,272.07 218.46,274.22 218.84,276.38 219.22,278.53 219.60,280.67 219.97,282.79 220.35,284.88 220.73,286.93 221.11,288.94 221.49,290.89 221.69,291.89 222.41,295.35 223.13,298.51 223.85,301.46 224.57,304.33 225.29,307.11 226.01,309.82 226.73,312.45 227.45,315.00 228.17,317.49 228.89,319.91 229.61,322.56 230.33,325.59 231.05,327.96 231.77,329.33 232.49,331.89 233.22,333.43 233.94,336.53 234.66,339.01 235.38,337.74 236.10,340.75 236.82,343.46 237.54,344.73 238.26,347.86 238.98,348.28 239.70,351.95 240.42,351.80 241.14,353.66 241.86,355.79 242.58,356.72 243.30,359.11 244.03,359.08 244.75,361.60 245.47,365.06 246.19,366.01 246.91,365.06 247.63,368.32 248.35,368.82 249.07,370.80 249.79,370.20 250.51,371.65 251.23,372.96 251.95,375.00 252.67,375.93 253.39,375.56 254.11,378.08 254.83,380.28 255.56,378.30 256.28,379.66 257.00,382.30 257.72,381.95 258.44,382.55 259.16,383.66 259.88,383.40 260.60,384.49 261.32,386.74 262.04,387.02 262.76,386.97 263.48,387.67 264.20,389.27 264.92,388.91 265.64,390.94 266.37,390.42 267.09,392.83 267.81,391.90 268.53,391.43 269.25,392.37 269.97,394.50 270.69,396.46 271.41,394.85 272.13,394.85 272.85,395.99 273.57,396.40 274.29,397.93 275.01,397.86 275.73,398.80 276.45,399.26 277.17,399.23 277.90,398.43 278.62,399.52 279.34,400.66 280.06,400.69 280.78,401.58 281.50,401.76 282.22,401.69 282.94,403.11 283.66,402.41 284.38,403.35 285.10,402.71 285.82,404.29 286.54,403.99 287.26,405.00 287.98,404.57 288.71,406.26 289.43,405.93 290.15,406.50 290.87,407.29 291.59,406.97 292.31,407.25 293.03,407.86 293.75,408.47 294.47,408.66 295.19,409.05 295.91,408.44 296.63,409.10 297.35,409.03 298.07,409.60 298.79,409.49 299.51,410.78 300.24,410.99 300.96,411.43 301.68,412.02 302.40,411.79 303.12,412.25 303.84,412.51 304.56,412.94 305.28,412.83 306.00,414.37 306.72,413.64 307.44,414.22 308.16,414.77 308.88,414.87 309.60,414.69 310.32,414.77 311.05,415.51 311.77,415.27 312.49,415.66 313.21,415.56 313.93,415.77 314.65,416.10 315.37,416.85 316.09,417.42 316.81,416.41 317.53,417.66 318.25,417.06 318.97,417.60 319.69,417.04 320.41,418.05 321.13,418.32 321.85,419.32 322.58,418.22 323.30,418.69 324.02,419.13 324.74,419.19 325.46,418.57 326.18,419.14 326.90,419.08 327.62,419.74 328.34,419.63 329.06,419.49 329.78,420.20 330.50,419.63 331.22,420.47 331.94,419.62 332.66,420.89 333.39,420.98 334.11,420.86 334.83,421.20 335.55,421.23 336.27,421.33 336.99,420.90 337.71,421.80 338.43,421.19 339.15,421.46 339.87,421.91 340.59,422.18 341.31,421.39 342.03,423.46 342.75,422.68 343.47,422.65 344.19,422.48 344.92,422.82 345.64,422.55 346.36,422.83 347.08,422.72 347.80,423.56 348.52,423.21 349.24,422.82 349.96,423.92 350.68,423.67 351.40,424.47 352.12,423.80 352.84,424.42 353.56,423.93 354.28,424.79 355.00,424.39 355.73,424.95 356.45,424.63 357.17,424.55 357.89,423.86 358.61,424.75 359.33,424.82 360.05,424.35 360.77,424.77 361.49,425.76 362.21,425.20 362.93,425.46 363.65,425.27 364.37,425.49 365.09,426.53 365.81,426.13 366.53,425.24 367.26,425.73 367.98,426.53 368.70,426.47 369.42,426.48 370.14,427.01 370.86,427.91 371.58,426.43 372.30,427.17 373.02,427.12 373.74,427.23 374.46,427.17 375.18,427.28 375.90,426.55 376.62,427.39 377.34,427.10 378.07,427.44 378.79,426.99 379.51,427.54 380.23,428.49 380.95,427.01 381.67,427.15 382.39,427.64 383.11,428.63 383.83,427.53 384.55,428.00 385.27,428.55 385.99,428.52 386.71,427.90 387.43,428.71 388.15,428.59 388.87,428.90 389.60,428.46 390.32,429.10 391.04,428.58 391.76,429.01 392.48,428.14 393.20,429.21 393.92,429.05 394.64,428.77 395.36,428.88 396.08,429.90 396.80,429.29 397.52,429.26 398.24,429.22 398.96,429.62 399.68,429.02 400.41,429.13 401.13,429.88 401.85,430.22 402.57,429.89 403.29,429.69 404.01,429.55 404.73,430.48 405.45,430.34 406.17,430.91 406.89,430.58 407.61,429.82 408.33,429.49 409.05,430.07 409.77,430.47 410.49,430.57 411.21,429.77 411.94,430.11 412.66,430.54 413.38,430.88 414.10,431.03 414.82,430.79 415.54,430.15 416.26,430.98 416.98,431.08 417.70,430.90 418.42,431.15 419.14,430.75 419.86,431.55 420.58,431.18 421.30,431.53 422.02,431.00 422.75,431.32 423.47,431.71 424.19,431.68 424.91,431.55 425.63,431.04 426.35,431.43 427.07,431.58 427.79,432.12 428.51,432.37 429.23,432.43 429.95,432.13 430.67,431.80 431.39,431.98 432.11,431.62 432.83,432.50 433.55,432.22 434.28,432.28 435.00,432.60 435.72,433.09 436.44,432.62 437.16,432.02 437.88,433.06 438.60,432.14 439.32,432.17 440.04,432.60 440.76,432.48 441.48,432.68 442.20,432.67 442.92,432.19 443.64,432.34 444.36,432.43 445.09,432.75 445.81,432.93 446.53,432.83 447.25,433.44 447.97,433.33 448.69,433.03 449.41,433.75 450.13,433.14 450.85,433.23 451.57,433.29 452.29,433.32 453.01,433.55 453.73,432.60 454.45,434.10 455.17,433.71 455.89,434.13 456.62,433.41 457.34,433.24 458.06,432.96 458.78,433.92 459.50,433.46 460.22,434.06 460.94,433.80 461.66,433.58 462.38,434.39 463.10,433.96 463.82,434.17 464.54,433.85 465.26,433.73 465.98,434.59 466.70,434.14 467.43,434.63 468.15,435.00 468.87,434.61 469.59,434.49 470.31,434.73 471.03,434.73 471.75,433.91 472.47,434.37 473.19,434.06 473.91,433.97 474.63,434.45 475.35,433.63 476.07,434.42 476.79,434.57 477.51,434.94 478.23,434.81 478.96,434.59 479.68,434.73 480.40,434.71 481.12,434.71 481.84,435.35 482.56,435.18 483.28,435.08 484.00,435.17 484.72,435.48 485.44,435.08 486.16,435.39 486.88,434.77 487.60,435.44 488.32,435.11 489.04,435.92 489.77,435.32 490.49,434.95 491.21,435.32 491.93,435.14 492.65,435.33 493.37,435.54 494.09,435.30 494.81,435.36 495.53,435.40 496.25,435.77 496.97,435.77 497.69,436.59 498.41,435.64 499.13,436.07 499.85,436.00 500.57,435.49 501.30,435.74 502.02,435.70 502.74,436.12 503.46,435.73 504.18,435.92 504.90,435.89 505.62,436.03 506.34,435.46 507.06,436.44 507.78,436.00 508.50,436.02 509.22,435.82 509.94,435.99 510.66,436.36 511.38,436.17 512.11,435.74 512.83,435.92 513.55,436.45 514.27,436.28 514.99,436.41 515.71,435.95 516.43,436.57 517.15,436.01 517.87,435.93 518.59,436.56 519.31,435.78 520.03,436.64 520.75,436.66 521.47,436.37 522.19,436.82 522.91,436.65 523.64,437.10 524.36,436.87 525.08,436.73 525.80,437.24 526.52,436.58 527.24,436.60 527.96,436.91 528.68,436.68 529.40,436.71 530.12,437.22 530.84,436.80 531.56,436.94 532.28,437.26 533.00,436.94 533.72,437.45 534.45,438.06 535.17,437.00 535.89,437.09 536.61,436.59 537.33,437.32 538.05,436.95 538.77,437.56 539.49,437.66 540.21,437.42 540.93,437.26 541.65,437.37 542.37,437.01 543.09,437.01 543.81,437.84 544.53,437.61 545.25,436.87 545.98,437.04 546.70,437.89 547.42,437.77 548.14,436.89 548.86,437.88 549.58,437.18 550.30,438.26 551.02,437.70 551.74,437.99 552.46,437.56 553.18,437.27 553.90,437.56 554.62,437.40 555.34,437.37 556.06,437.23 556.79,437.69 557.51,438.46 558.23,438.36 558.95,437.58 559.67,437.69 560.39,437.56 561.11,438.05 561.83,438.12 562.55,438.60 563.27,438.39 563.99,438.10 564.71,438.30 565.43,438.64 566.15,437.65 566.87,438.14 567.59,438.09 568.32,438.16 569.04,438.22 569.76,438.58 570.48,437.98 571.20,438.46 571.92,438.63 572.64,437.91 573.36,438.31 574.08,438.16 574.80,438.99 575.52,437.83 576.24,438.69 576.96,438.81 577.68,438.59 578.40,438.79 579.13,438.78 579.85,438.35 580.57,438.06 581.29,438.63 582.01,438.56 582.73,438.56 583.45,438.54 584.17,439.02 584.89,438.09 585.61,439.11 586.33,438.88 587.05,438.03 587.77,438.74 588.49,439.04 589.21,438.70 589.93,438.00 590.66,438.75 591.38,439.14 592.10,438.73 592.82,438.72 593.54,439.10 594.26,438.77 594.98,439.58 595.70,438.73" fill="none" stroke="#00e000" stroke-width="1.35" stroke-linejoin="round"/>
<path d="M203.87,215.02L203.87,224.22L212.15,219.62Z" fill="none" stroke="#00e000" stroke-width="1"/>
<path d="M303.40,409.50L303.40,418.70L311.68,414.10Z" fill="none" stroke="#00e000" stroke-width="1"/>
<path d="M402.92,425.60L402.92,434.80L411.20,430.20Z" fill="none" stroke="#00e000" stroke-width="1"/>
<path d="M502.45,431.38L502.45,440.58L510.73,435.98Z" fill="none" stroke="#00e000" stroke-width="1"/>
<path d="M197.60,442.00 197.80,409.74 198.00,377.24 198.20,345.08 198.40,313.84 198.60,284.11 198.79,256.45 198.99,231.46 199.19,209.71 199.57,179.42 199.95,166.87 200.33,167.01 200.70,167.90 201.08,169.32 201.46,171.18 201.84,173.41 202.22,175.90 202.59,178.57 202.97,181.33 203.35,184.10 203.73,186.79 204.10,189.33 204.48,192.08 204.86,195.07 205.24,198.25 205.62,201.54 205.99,204.89 206.37,208.22 206.75,211.47 207.13,214.58 207.51,217.48 207.88,220.19 208.26,222.83 208.64,225.40 209.02,227.91 209.39,230.37 209.77,232.78 210.15,235.15 210.53,237.48 210.91,239.78 211.28,242.06 211.66,244.31 212.04,246.52 212.42,248.68 212.80,250.80 213.17,252.88 213.55,254.94 213.93,256.99 214.31,259.03 214.68,261.07 215.06,263.12 215.44,265.19 215.82,267.29 216.20,269.44 216.57,271.62 216.95,273.83 217.33,276.06 217.71,278.31 218.09,280.56 218.46,282.81 218.84,285.05 219.22,287.27 219.60,289.47 219.97,291.63 220.35,293.75 220.73,295.83 221.11,297.84 221.49,299.79 221.69,300.79 222.41,304.22 223.13,307.32 223.85,310.20 224.57,312.97 225.29,315.64 226.01,318.22 226.73,320.71 227.45,323.11 228.17,325.43 228.89,327.68 229.61,329.80 230.33,331.46 231.05,334.21 231.77,337.53 232.49,340.70 233.22,340.59 233.94,341.60 234.66,345.03 235.38,345.97 236.10,345.99 236.82,350.19 237.54,346.77 238.26,352.29 238.98,355.61 239.70,355.69 240.42,358.01 241.14,358.15 241.86,362.24 242.58,361.97 243.30,365.17 244.03,365.33 244.75,365.72 245.47,368.37 246.19,368.66 246.91,371.42 247.63,371.61 248.35,374.16 249.07,374.96 249.79,375.81 250.51,378.08 251.23,378.61 251.95,379.31 252.67,378.41 253.39,380.60 254.11,382.54 254.83,383.47 255.56,383.47 256.28,385.12 257.00,384.93 257.72,386.72 258.44,387.47 259.16,386.83 259.88,389.58 260.60,387.26 261.32,390.20 262.04,391.41 262.76,390.60 263.48,390.92 264.20,391.42 264.92,392.59 265.64,394.06 266.37,394.29 267.09,394.66 267.81,394.73 268.53,395.22 269.25,395.95 269.97,396.37 270.69,398.93 271.41,398.31 272.13,397.68 272.85,399.22 273.57,399.43 274.29,400.29 275.01,400.36 275.73,401.13 276.45,402.42 277.17,401.31 277.90,401.69 278.62,402.92 279.34,404.04 280.06,403.36 280.78,404.31 281.50,403.31 282.22,404.45 282.94,405.64 283.66,405.46 284.38,404.31 285.10,405.88 285.82,406.62 286.54,406.65 287.26,407.53 287.98,406.69 288.71,408.37 289.43,407.56 290.15,407.65 290.87,408.07 291.59,409.02 292.31,409.54 293.03,409.64 293.75,409.87 294.47,410.04 295.19,410.71 295.91,410.92 296.63,411.65 297.35,412.19 298.07,411.47 298.79,412.18 299.51,412.36 300.24,412.17 300.96,413.77 301.68,414.03 302.40,414.21 303.12,413.85 303.84,415.36 304.56,415.25 305.28,414.76 306.00,416.26 306.72,415.35 307.44,415.14 308.16,415.99 308.88,416.86 309.60,416.88 310.32,417.37 311.05,417.13 311.77,416.82 312.49,417.00 313.21,418.82 313.93,418.29 314.65,417.93 315.37,418.46 316.09,419.68 316.81,418.55 317.53,418.57 318.25,419.02 318.97,419.22 319.69,418.90 320.41,420.21 321.13,419.83 321.85,419.66 322.58,418.37 323.30,420.52 324.02,419.95 324.74,419.65 325.46,420.26 326.18,420.36 326.90,420.32 327.62,421.89 328.34,420.96 329.06,421.55 329.78,420.75 330.50,421.41 331.22,421.62 331.94,421.79 332.66,422.59 333.39,421.71 334.11,423.02 334.83,422.49 335.55,422.69 336.27,422.20 336.99,422.77 337.71,423.29 338.43,422.71 339.15,422.35 339.87,423.73 340.59,422.75 341.31,423.80 342.03,423.72 342.75,423.82 343.47,424.32 344.19,423.23 344.92,423.72 345.64,423.91 346.36,424.90 347.08,424.11 347.80,424.91 348.52,424.01 349.24,425.51 349.96,424.51 350.68,425.63 351.40,425.69 352.12,425.05 352.84,424.87 353.56,424.85 354.28,425.62 355.00,425.78 355.73,425.24 356.45,426.24 357.17,426.32 357.89,425.70 358.61,425.82 359.33,426.08 360.05,425.67 360.77,427.01 361.49,426.19 362.21,425.53 362.93,426.75 363.65,427.20 364.37,426.21 365.09,426.59 365.81,426.39 366.53,426.70 367.26,427.28 367.98,427.26 368.70,427.75 369.42,426.22 370.14,427.81 370.86,427.65 371.58,427.87 372.30,427.47 373.02,427.14 373.74,428.04 374.46,427.71 375.18,427.67 375.90,427.14 376.62,428.23 377.34,428.10 378.07,427.61 378.79,428.97 379.51,428.45 380.23,428.48 380.95,429.06 381.67,428.76 382.39,428.66 383.11,428.36 383.83,428.51 384.55,429.19 385.27,429.42 385.99,428.72 386.71,429.80 387.43,429.47 388.15,429.78 388.87,430.03 389.60,429.35 390.32,430.10 391.04,429.85 391.76,429.16 392.48,429.10 393.20,430.34 393.92,430.23 394.64,430.28 395.36,430.53 396.08,429.53 396.80,429.77 397.52,429.99 398.24,430.63 398.96,430.01 399.68,430.29 400.41,430.44 401.13,430.26 401.85,430.01 402.57,430.63 403.29,430.83 404.01,431.12 404.73,430.23 405.45,430.64 406.17,431.83 406.89,430.89 407.61,430.69 408.33,431.67 409.05,431.69 409.77,430.76 410.49,431.33 411.21,431.84 411.94,431.31 412.66,431.24 413.38,431.80 414.10,431.79 414.82,431.52 415.54,431.61 416.26,430.95 416.98,431.17 417.70,431.53 418.42,432.04 419.14,432.06 419.86,432.73 420.58,431.95 421.30,432.13 422.02,432.27 422.75,431.79 423.47,431.64 424.19,432.86 424.91,432.05 425.63,432.09 426.35,432.54 427.07,432.62 427.79,431.74 428.51,432.16 429.23,431.68 429.95,432.81 430.67,432.97 431.39,432.71 432.11,432.33 432.83,432.21 433.55,432.01 434.28,433.02 435.00,433.37 435.72,432.50 436.44,432.57 437.16,432.74 437.88,432.45 438.60,433.34 439.32,433.68 440.04,432.35 440.76,433.04 441.48,433.31 442.20,432.94 442.92,432.45 443.64,433.25 444.36,432.71 445.09,433.36 445.81,432.73 446.53,433.41 447.25,433.07 447.97,433.56 448.69,433.37 449.41,433.55 450.13,433.83 450.85,433.67 451.57,433.49 452.29,433.83 453.01,434.03 453.73,433.72 454.45,433.38 455.17,433.98 455.89,434.35 456.62,434.35 457.34,434.05 458.06,433.50 458.78,434.52 459.50,433.76 460.22,434.29 460.94,434.50 461.66,434.49 462.38,433.91 463.10,434.54 463.82,433.91 464.54,433.71 465.26,434.79 465.98,434.98 466.70,435.19 467.43,434.40 468.15,434.95 468.87,434.89 469.59,434.99 470.31,434.25 471.03,434.54 471.75,434.59 472.47,435.47 473.19,435.19 473.91,434.94 474.63,435.00 475.35,434.88 476.07,434.45 476.79,434.82 477.51,434.81 478.23,435.18 478.96,435.31 479.68,435.37 480.40,435.27 481.12,435.85 481.84,435.51 482.56,435.33 483.28,435.54 484.00,435.42 484.72,436.09 485.44,435.67 486.16,435.50 486.88,435.13 487.60,435.53 488.32,435.68 489.04,435.84 489.77,435.66 490.49,435.88 491.21,435.48 491.93,435.96 492.65,435.57 493.37,436.06 494.09,436.38 494.81,436.40 495.53,435.61 496.25,436.16 496.97,436.16 497.69,435.14 498.41,436.46 499.13,436.10 499.85,436.59 500.57,436.36 501.30,435.99 502.02,436.31 502.74,435.58 503.46,436.59 504.18,436.53 504.90,436.81 505.62,436.35 506.34,436.65 507.06,436.46 507.78,436.72 508.50,436.31 509.22,436.72 509.94,436.50 510.66,436.60 511.38,436.84 512.11,436.61 512.83,436.64 513.55,436.49 514.27,437.37 514.99,436.21 515.71,436.70 516.43,436.63 517.15,436.62 517.87,437.29 518.59,436.60 519.31,436.78 520.03,437.07 520.75,436.66 521.47,437.05 522.19,437.33 522.91,436.72 523.64,436.78 524.36,436.95 525.08,437.13 525.80,436.58 526.52,437.33 527.24,437.09 527.96,437.25 528.68,437.28 529.40,437.08 530.12,437.59 530.84,437.12 531.56,437.22 532.28,437.45 533.00,437.61 533.72,437.85 534.45,437.39 535.17,436.88 535.89,437.67 536.61,437.80 537.33,437.73 538.05,437.45 538.77,437.39 539.49,437.47 540.21,437.62 540.93,438.03 541.65,437.31 542.37,437.79 543.09,437.57 543.81,437.69 544.53,437.74 545.25,437.50 545.98,437.74 546.70,437.12 547.42,437.35 548.14,437.55 548.86,437.96 549.58,437.63 550.30,437.80 551.02,437.70 551.74,437.93 552.46,438.31 553.18,438.31 553.90,438.04 554.62,437.76 555.34,438.08 556.06,438.27 556.79,438.16 557.51,437.90 558.23,438.30 558.95,438.33 559.67,438.15 560.39,437.99 561.11,438.61 561.83,438.37 562.55,438.27 563.27,438.42 563.99,438.14 564.71,438.05 565.43,438.58 566.15,437.59 566.87,438.26 567.59,437.89 568.32,438.18 569.04,439.03 569.76,438.87 570.48,438.39 571.20,438.33 571.92,438.32 572.64,439.17 573.36,438.76 574.08,438.42 574.80,438.18 575.52,438.44 576.24,439.07 576.96,438.82 577.68,438.77 578.40,438.82 579.13,438.37 579.85,438.34 580.57,438.32 581.29,439.10 582.01,439.17 582.73,439.27 583.45,438.89 584.17,438.79 584.89,439.28 585.61,438.77 586.33,438.80 587.05,438.96 587.77,438.76 588.49,439.24 589.21,439.28 589.93,438.49 590.66,439.09 591.38,438.68 592.10,439.21 592.82,439.74 593.54,438.86 594.26,439.44 594.98,439.34 595.70,438.80" fill="none" stroke="#0a1eff" stroke-width="1.35" stroke-linejoin="round"/>
<path d="M203.55,217.83L211.55,217.83M207.55,213.83L207.55,221.83M204.75,215.03L210.35,220.63M204.75,220.63L210.35,215.03" stroke="#0a1eff" stroke-width="1" fill="none"/>
<path d="M303.08,415.82L311.08,415.82M307.08,411.82L307.08,419.82M304.28,413.02L309.88,418.62M304.28,418.62L309.88,413.02" stroke="#0a1eff" stroke-width="1" fill="none"/>
<path d="M402.60,430.93L410.60,430.93M406.60,426.93L406.60,434.93M403.80,428.13L409.40,433.73M403.80,433.73L409.40,428.13" stroke="#0a1eff" stroke-width="1" fill="none"/>
<path d="M502.13,436.35L510.13,436.35M506.13,432.35L506.13,440.35M503.33,433.55L508.93,439.15M503.33,439.15L508.93,433.55" stroke="#0a1eff" stroke-width="1" fill="none"/>
<path d="M197.60,442.00 197.80,360.08 198.00,274.75 198.20,202.97 198.40,161.72 198.60,157.59 198.79,157.77 198.99,158.11 199.19,158.59 199.57,159.89 199.95,161.62 200.33,163.71 200.70,166.12 201.08,168.76 201.46,171.58 201.84,174.52 202.22,177.51 202.59,180.49 202.97,183.38 203.35,186.14 203.73,188.86 204.10,191.79 204.48,194.89 204.86,198.12 205.24,201.45 205.62,204.83 205.99,208.23 206.37,211.59 206.75,214.89 207.13,218.09 207.51,221.13 207.88,224.06 208.26,226.96 208.64,229.82 209.02,232.65 209.39,235.44 209.77,238.18 210.15,240.87 210.53,243.50 210.91,246.06 211.28,248.56 211.66,250.98 212.04,253.32 212.42,255.59 212.80,257.79 213.17,259.95 213.55,262.08 213.93,264.17 214.31,266.25 214.68,268.33 215.06,270.42 215.44,272.53 215.82,274.68 216.20,276.87 216.57,279.10 216.95,281.36 217.33,283.64 217.71,285.93 218.09,288.22 218.46,290.51 218.84,292.79 219.22,295.04 219.60,297.27 219.97,299.45 220.35,301.59 220.73,303.67 221.11,305.69 221.49,307.64 221.69,308.63 222.41,312.02 223.13,315.03 223.85,317.81 224.57,320.46 225.29,323.01 226.01,325.46 226.73,327.81 227.45,330.07 228.17,332.25 228.89,334.35 229.61,337.19 230.33,337.06 231.05,339.96 231.77,342.13 232.49,341.75 233.22,344.88 233.94,348.73 234.66,350.14 235.38,351.06 236.10,353.19 236.82,353.06 237.54,355.30 238.26,356.83 238.98,358.30 239.70,360.08 240.42,364.22 241.14,365.36 241.86,366.53 242.58,366.62 243.30,368.34 244.03,368.33 244.75,370.20 245.47,371.48 246.19,374.49 246.91,375.22 247.63,375.52 248.35,378.37 249.07,379.09 249.79,378.11 250.51,378.84 251.23,382.86 251.95,382.44 252.67,384.23 253.39,385.71 254.11,385.68 254.83,385.48 255.56,386.23 256.28,387.32 257.00,387.35 257.72,389.67 258.44,390.00 259.16,389.47 259.88,390.72 260.60,392.50 261.32,393.48 262.04,393.25 262.76,393.79 263.48,394.34 264.20,395.27 264.92,395.69 265.64,396.76 266.37,396.95 267.09,397.89 267.81,398.82 268.53,398.44 269.25,399.55 269.97,400.04 270.69,399.64 271.41,400.26 272.13,399.74 272.85,400.31 273.57,402.04 274.29,402.42 275.01,403.07 275.73,403.91 276.45,402.52 277.17,403.45 277.90,404.59 278.62,403.55 279.34,404.59 280.06,404.90 280.78,405.99 281.50,407.48 282.22,406.04 282.94,407.21 283.66,407.98 284.38,407.14 285.10,407.46 285.82,408.67 286.54,408.49 287.26,408.52 287.98,409.12 288.71,409.79 289.43,408.96 290.15,410.29 290.87,409.82 291.59,410.84 292.31,411.30 293.03,410.77 293.75,412.15 294.47,411.94 295.19,412.19 295.91,412.19 296.63,413.15 297.35,414.27 298.07,414.67 298.79,415.03 299.51,415.01 300.24,414.78 300.96,415.18 301.68,415.57 302.40,415.67 303.12,416.28 303.84,416.20 304.56,416.40 305.28,415.62 306.00,417.10 306.72,417.33 307.44,417.60 308.16,418.09 308.88,417.50 309.60,418.75 310.32,417.31 311.05,419.30 311.77,418.75 312.49,418.42 313.21,418.84 313.93,418.92 314.65,420.20 315.37,419.22 316.09,419.54 316.81,419.23 317.53,420.16 318.25,420.28 318.97,421.25 319.69,420.38 320.41,421.31 321.13,420.78 321.85,420.27 322.58,421.68 323.30,421.29 324.02,421.80 324.74,421.97 325.46,422.72 326.18,422.17 326.90,421.96 327.62,421.66 328.34,421.66 329.06,422.58 329.78,422.21 330.50,422.81 331.22,423.31 331.94,423.24 332.66,422.76 333.39,422.96 334.11,424.17 334.83,423.28 335.55,423.78 336.27,423.48 336.99,423.80 337.71,424.56 338.43,424.72 339.15,424.26 339.87,424.33 340.59,424.40 341.31,425.08 342.03,424.06 342.75,425.83 343.47,424.31 344.19,425.08 344.92,425.34 345.64,424.47 346.36,425.37 347.08,425.39 347.80,425.75 348.52,425.39 349.24,425.48 349.96,425.17 350.68,425.41 351.40,426.01 352.12,426.38 352.84,426.38 353.56,426.62 354.28,426.58 355.00,426.73 355.73,426.44 356.45,426.62 357.17,427.07 357.89,426.74 358.61,427.88 359.33,427.07 360.05,428.10 360.77,427.37 361.49,427.03 362.21,427.30 362.93,427.93 363.65,427.64 364.37,427.70 365.09,427.97 365.81,427.75 366.53,428.16 367.26,428.32 367.98,428.46 368.70,427.95 369.42,428.60 370.14,428.91 370.86,428.04 371.58,428.76 372.30,429.12 373.02,428.35 373.74,428.94 374.46,429.00 375.18,429.18 375.90,428.65 376.62,428.71 377.34,428.66 378.07,429.41 378.79,428.25 379.51,429.52 380.23,429.80 380.95,429.55 381.67,430.20 382.39,429.87 383.11,429.79 383.83,429.62 384.55,429.22 385.27,429.64 385.99,429.99 386.71,429.92 387.43,430.47 388.15,429.49 388.87,430.05 389.60,430.02 390.32,430.47 391.04,430.65 391.76,430.78 392.48,430.79 393.20,430.74 393.92,430.25 394.64,430.91 395.36,430.47 396.08,430.43 396.80,430.67 397.52,430.54 398.24,431.81 398.96,430.88 399.68,431.22 400.41,430.58 401.13,431.01 401.85,431.33 402.57,431.24 403.29,431.23 404.01,430.70 404.73,431.57 405.45,431.36 406.17,431.73 406.89,431.47 407.61,431.49 408.33,431.60 409.05,431.78 409.77,431.20 410.49,431.41 411.21,431.68 411.94,432.14 412.66,431.80 413.38,431.96 414.10,431.71 414.82,431.89 415.54,432.40 416.26,431.98 416.98,431.55 417.70,432.08 418.42,432.74 419.14,432.54 419.86,432.06 420.58,432.00 421.30,433.07 422.02,432.15 422.75,431.97 423.47,432.09 424.19,433.16 424.91,432.71 425.63,432.26 426.35,432.51 427.07,432.98 427.79,433.24 428.51,432.95 429.23,432.77 429.95,433.38 430.67,433.11 431.39,432.63 432.11,432.65 432.83,433.11 433.55,432.72 434.28,433.31 435.00,433.53 435.72,433.58 436.44,433.77 437.16,433.59 437.88,433.59 438.60,432.73 439.32,433.18 440.04,432.76 440.76,433.99 441.48,433.40 442.20,433.87 442.92,434.26 443.64,433.56 444.36,434.06 445.09,433.58 445.81,432.96 446.53,433.90 447.25,434.01 447.97,434.26 448.69,434.59 449.41,434.17 450.13,434.42 450.85,434.10 451.57,434.32 452.29,434.12 453.01,434.10 453.73,433.88 454.45,434.75 455.17,434.67 455.89,433.91 456.62,434.14 457.34,434.75 458.06,433.63 458.78,435.57 459.50,434.75 460.22,434.76 460.94,434.51 461.66,435.19 462.38,434.75 463.10,434.71 463.82,434.41 464.54,435.54 465.26,435.14 465.98,435.16 466.70,434.62 467.43,434.32 468.15,434.44 468.87,435.33 469.59,435.04 470.31,435.21 471.03,435.19 471.75,435.47 472.47,435.19 473.19,435.32 473.91,435.12 474.63,435.41 475.35,434.49 476.07,435.99 476.79,435.65 477.51,435.68 478.23,435.45 478.96,435.22 479.68,435.59 480.40,434.55 481.12,435.51 481.84,435.16 482.56,435.72 483.28,435.98 484.00,434.90 484.72,436.08 485.44,436.34 486.16,436.10 486.88,435.82 487.60,435.43 488.32,436.04 489.04,436.06 489.77,435.91 490.49,435.76 491.21,436.35 491.93,435.99 492.65,436.32 493.37,436.01 494.09,436.01 494.81,435.86 495.53,435.62 496.25,436.44 496.97,436.60 497.69,436.27 498.41,436.33 499.13,436.36 499.85,436.12 500.57,436.37 501.30,436.16 502.02,436.46 502.74,436.54 503.46,436.82 504.18,436.33 504.90,436.57 505.62,436.21 506.34,436.43 507.06,436.85 507.78,436.62 508.50,436.76 509.22,436.81 509.94,437.25 510.66,436.75 511.38,436.82 512.11,437.27 512.83,436.80 513.55,436.80 514.27,437.33 514.99,437.35 515.71,436.92 516.43,436.78 517.15,436.96 517.87,437.68 518.59,437.48 519.31,436.97 520.03,437.50 520.75,436.85 521.47,436.86 522.19,437.52 522.91,437.19 523.64,437.07 524.36,437.17 525.08,437.50 525.80,437.44 526.52,437.43 527.24,436.90 527.96,437.23 528.68,437.09 529.40,437.42 530.12,437.34 530.84,437.26 531.56,437.62 532.28,437.83 533.00,437.49 533.72,437.77 534.45,437.84 535.17,437.94 535.89,438.16 536.61,437.69 537.33,438.06 538.05,438.03 538.77,437.90 539.49,438.22 540.21,437.68 540.93,437.59 541.65,438.25 542.37,438.03 543.09,438.01 543.81,438.04 544.53,437.96 545.25,437.89 545.98,438.23 546.70,437.81 547.42,438.68 548.14,438.42 548.86,437.81 549.58,438.26 550.30,438.04 551.02,437.79 551.74,437.64 552.46,438.56 553.18,438.47 553.90,438.48 554.62,438.49 555.34,438.20 556.06,438.92 556.79,438.19 557.51,438.36 558.23,437.90 558.95,438.87 559.67,438.20 560.39,438.55 561.11,438.67 561.83,438.19 562.55,438.21 563.27,438.93 563.99,438.26 564.71,438.63 565.43,438.68 566.15,438.73 566.87,438.62 567.59,438.80 568.32,438.60 569.04,439.42 569.76,438.38 570.48,438.60 571.20,438.88 571.92,438.60 572.64,438.81 573.36,438.57 574.08,438.45 574.80,438.65 575.52,439.76 576.24,438.42 576.96,438.82 577.68,438.65 578.40,439.13 579.13,438.95 579.85,438.99 580.57,438.76 581.29,438.72 582.01,438.85 582.73,438.90 583.45,438.72 584.17,438.67 584.89,438.82 585.61,439.15 586.33,438.80 587.05,439.26 587.77,439.01 588.49,438.65 589.21,439.58 589.93,439.49 590.66,439.85 591.38,438.59 592.10,439.14 592.82,439.06 593.54,439.14 594.26,439.28 594.98,439.53 595.70,439.20" fill="none" stroke="#000000" stroke-width="1.35" stroke-linejoin="round"/>
<path d="M207.55,217.90L207.55,225.10" stroke="#000000" stroke-width="1" fill="none"/>
<path d="M307.08,413.71L307.08,420.91" stroke="#000000" stroke-width="1" fill="none"/>
<path d="M406.60,427.96L406.60,435.16" stroke="#000000" stroke-width="1" fill="none"/>
<path d="M506.13,433.07L506.13,440.27" stroke="#000000" stroke-width="1" fill="none"/>
<line x1="197.6" y1="148.0" x2="595.7" y2="148.0" stroke="#bbb" stroke-width="1.3"/>
<line x1="197.6" y1="442.0" x2="595.7" y2="442.0" stroke="#c4d2d2" stroke-width="1.3"/>
<line x1="197.6" y1="148.0" x2="197.6" y2="442.0" stroke="#111" stroke-width="1.3"/>
<line x1="595.7" y1="148.0" x2="595.7" y2="442.0" stroke="#555" stroke-width="1.3"/>
<path d="M237.41,442.0v-5M237.41,148.0v5M277.22,442.0v-5M277.22,148.0v5M317.03,442.0v-5M317.03,148.0v5M356.84,442.0v-5M356.84,148.0v5M396.65,442.0v-5M396.65,148.0v5M436.46,442.0v-5M436.46,148.0v5M476.27,442.0v-5M476.27,148.0v5M516.08,442.0v-5M516.08,148.0v5M555.89,442.0v-5M555.89,148.0v5M197.6,405.25h5M595.7,405.25h-5M197.6,368.50h5M595.7,368.50h-5M197.6,331.75h5M595.7,331.75h-5M197.6,295.00h5M595.7,295.00h-5M197.6,258.25h5M595.7,258.25h-5M197.6,221.50h5M595.7,221.50h-5M197.6,184.75h5M595.7,184.75h-5" stroke="#333" stroke-width="1"/>
<g font-family="Liberation Sans" font-size="12" fill="#000"><text x="197.60" y="456.8" text-anchor="middle">0</text><text x="237.41" y="456.8" text-anchor="middle">0.1</text><text x="277.22" y="456.8" text-anchor="middle">0.2</text><text x="317.03" y="456.8" text-anchor="middle">0.3</text><text x="356.84" y="456.8" text-anchor="middle">0.4</text><text x="396.65" y="456.8" text-anchor="middle">0.5</text><text x="436.46" y="456.8" text-anchor="middle">0.6</text><text x="476.27" y="456.8" text-anchor="middle">0.7</text><text x="516.08" y="456.8" text-anchor="middle">0.8</text><text x="555.89" y="456.8" text-anchor="middle">0.9</text><text x="595.70" y="456.8" text-anchor="middle">1</text><text x="194.5" y="448.30" text-anchor="end">0</text><text x="194.5" y="410.25" text-anchor="end">1</text><text x="194.5" y="372.80" text-anchor="end">2</text><text x="194.5" y="336.05" text-anchor="end">3</text><text x="194.5" y="299.30" text-anchor="end">4</text><text x="194.5" y="262.55" text-anchor="end">5</text><text x="194.5" y="225.80" text-anchor="end">6</text><text x="194.5" y="189.05" text-anchor="end">7</text><text x="194.5" y="152.30" text-anchor="end">8</text></g>
<rect x="486.8" y="152.9" width="102.99999999999994" height="170.1" fill="#fff" stroke="#444" stroke-width="1.3"/>
<line x1="492.3" y1="161.60" x2="527.6" y2="161.60" stroke="#6a82ff" stroke-width="1.5"/>
<circle cx="510.10" cy="161.60" r="3.7" fill="none" stroke="#3050ff" stroke-width="1"/>
<text x="531.3" y="165.70" font-family="Liberation Sans" font-size="10.6" fill="#111">SNR=-20dB</text>
<line x1="492.3" y1="175.57" x2="527.6" y2="175.57" stroke="#555" stroke-width="1.5"/>
<path d="M506.96,172.42L513.25,178.72M506.96,178.72L513.25,172.42" stroke="#333" stroke-width="1" fill="none"/>
<text x="531.3" y="179.67" font-family="Liberation Sans" font-size="10.6" fill="#111">SNR=-15dB</text>
<line x1="492.3" y1="189.54" x2="527.6" y2="189.54" stroke="#b060ff" stroke-width="1.5"/>
<path d="M506.40,189.54L513.80,189.54M510.10,185.84L510.10,193.24" stroke="#b050ff" stroke-width="1" fill="none"/>
<text x="531.3" y="193.64" font-family="Liberation Sans" font-size="10.6" fill="#111">SNR=-10dB</text>
<line x1="492.3" y1="203.51" x2="527.6" y2="203.51" stroke="#ff3030" stroke-width="1.5"/>
<path d="M506.40,203.51L513.80,203.51M510.10,199.81L510.10,207.21M507.51,200.92L512.69,206.10M507.51,206.10L512.69,200.92" stroke="#ff2020" stroke-width="1" fill="none"/>
<text x="531.3" y="207.61" font-family="Liberation Sans" font-size="10.6" fill="#111">SNR=-5dB</text>
<line x1="492.3" y1="217.48" x2="527.6" y2="217.48" stroke="#50d850" stroke-width="1.5"/>
<rect x="507.14" y="214.52" width="5.92" height="5.92" fill="none" stroke="#30d030" stroke-width="1"/>
<text x="531.3" y="221.58" font-family="Liberation Sans" font-size="10.6" fill="#111">SNR=0dB</text>
<line x1="492.3" y1="231.45" x2="527.6" y2="231.45" stroke="#6a82ff" stroke-width="1.5"/>
<path d="M510.10,226.94L513.33,231.45L510.10,235.96L506.88,231.45Z" fill="none" stroke="#3050ff" stroke-width="1"/>
<text x="531.3" y="235.55" font-family="Liberation Sans" font-size="10.6" fill="#111">SNR=5dB</text>
<line x1="492.3" y1="245.42" x2="527.6" y2="245.42" stroke="#555" stroke-width="1.5"/>
<path d="M505.80,241.98L514.40,241.98L510.10,249.72Z" fill="none" stroke="#333" stroke-width="1"/>
<text x="531.3" y="249.52" font-family="Liberation Sans" font-size="10.6" fill="#111">SNR=10dB</text>
<line x1="492.3" y1="259.39" x2="527.6" y2="259.39" stroke="#b060ff" stroke-width="1.5"/>
<path d="M505.80,262.83L514.40,262.83L510.10,255.09Z" fill="none" stroke="#b050ff" stroke-width="1"/>
<text x="531.3" y="263.49" font-family="Liberation Sans" font-size="10.6" fill="#111">SNR=15dB</text>
<line x1="492.3" y1="273.36" x2="527.6" y2="273.36" stroke="#ff3030" stroke-width="1.5"/>
<path d="M513.54,269.06L513.54,277.66L505.80,273.36Z" fill="none" stroke="#ff2020" stroke-width="1"/>
<text x="531.3" y="277.46" font-family="Liberation Sans" font-size="10.6" fill="#111">SNR=20dB</text>
<path d="M506.66,283.03L506.66,291.63L514.40,287.33Z" fill="none" stroke="#20d020" stroke-width="1"/>
<text x="531.3" y="291.43" font-family="Liberation Sans" font-size="10.6" fill="#111">SNR=25dB</text>
<line x1="492.3" y1="301.30" x2="527.6" y2="301.30" stroke="#5a7aff" stroke-width="1.5"/>
<path d="M506.40,301.30L513.80,301.30M510.10,297.60L510.10,305.00M507.51,298.71L512.69,303.89M507.51,303.89L512.69,298.71" stroke="#1030ff" stroke-width="1" fill="none"/>
<text x="531.3" y="305.40" font-family="Liberation Sans" font-size="10.6" fill="#111">SNR=30dB</text>
<line x1="492.3" y1="315.27" x2="527.6" y2="315.27" stroke="#a8b8b4" stroke-width="1.5"/>
<path d="M510.10,311.94L510.10,318.60" stroke="#333" stroke-width="1" fill="none"/>
<text x="531.3" y="319.37" font-family="Liberation Sans" font-size="10.6" fill="#111">SNR=35dB</text>
</svg>
<div class="abs" style="left:170px;top:361px;font-size:18px;color:#000;transform-origin:0 0;transform:rotate(-90deg)">Normalized PDF</div>
<svg class="abs" style="left:0;top:0" width="800" height="599"><path d="M384,459V475.5M409.5,459V475.5" stroke="#000" stroke-width="1.2"/></svg>
<div class="abs" style="left:387px;top:457.2px;font-size:18px;font-style:italic;font-family:'Liberation Serif',serif;color:#000">E</div>
<div class="abs" style="left:398px;top:464.5px;font-size:13px;color:#000">S</div>
<div class="abs" style="left:79px;top:489.2px;width:654px;height:70.7px;border-radius:12px;background:#a4e4fe"></div>
<div class="abs" style="left:118.5px;top:502px;font-size:22.3px;color:#000">Smaller prediction errors occur proportionally more often</div>
<div class="abs" style="left:263px;top:529px;font-size:22.3px;color:#000">at higher input SNR values</div>
<div class="abs" style="left:22.4px;top:565px;width:757px;height:2px;background:#000"></div>
<div class="abs" style="left:161px;top:576px;font-size:13px;font-weight:bold;color:#6e6e6e;letter-spacing:0.25px">Thomas Esch  -  Model-Based Speech Enhancement</div>
<div class="abs" style="left:517px;top:576px;font-size:13px;font-weight:bold;color:#000">8</div>
<svg class="abs" style="left:0;top:0" width="800" height="599" viewBox="0 0 800 599">
<rect x="56.8" y="563" width="10.4" height="6" fill="#fff"/>
<circle cx="15.6" cy="565.4" r="3.2" fill="#2e60f6"/>
<rect x="13.6" y="572.8" width="4.4" height="16.4" fill="#2e60f6"/>
<path d="M24,589.2 C24,580 27,575.6 32,575.6 C37.5,575.6 38,586.4 41.5,586.4 C45,586.4 44.5,580 44.5,572.8" fill="none" stroke="#2e60f6" stroke-width="5.6"/>
<path d="M56.8,572.8 C51,575 49.2,579 49.2,581 C49.2,583 51,587 56.8,589.2 Z" fill="#2e60f6"/>
<rect x="60" y="562.4" width="4.8" height="26.8" fill="#2e60f6"/>
</svg>
<div class="abs" style="left:631px;top:567.5px;font-size:27.3px;font-weight:bold;color:#0a28cc;transform-origin:0 0;transform:scaleX(0.975);letter-spacing:-2px;-webkit-text-stroke:0.6px #0a28cc">RWTH</div>
<div class="abs" style="left:704px;top:567.5px;font-size:27.3px;font-weight:bold;color:#8db9f5;transform-origin:0 0;transform:scaleX(0.655);letter-spacing:-0.5px">AACHEN</div>
</body></html>
